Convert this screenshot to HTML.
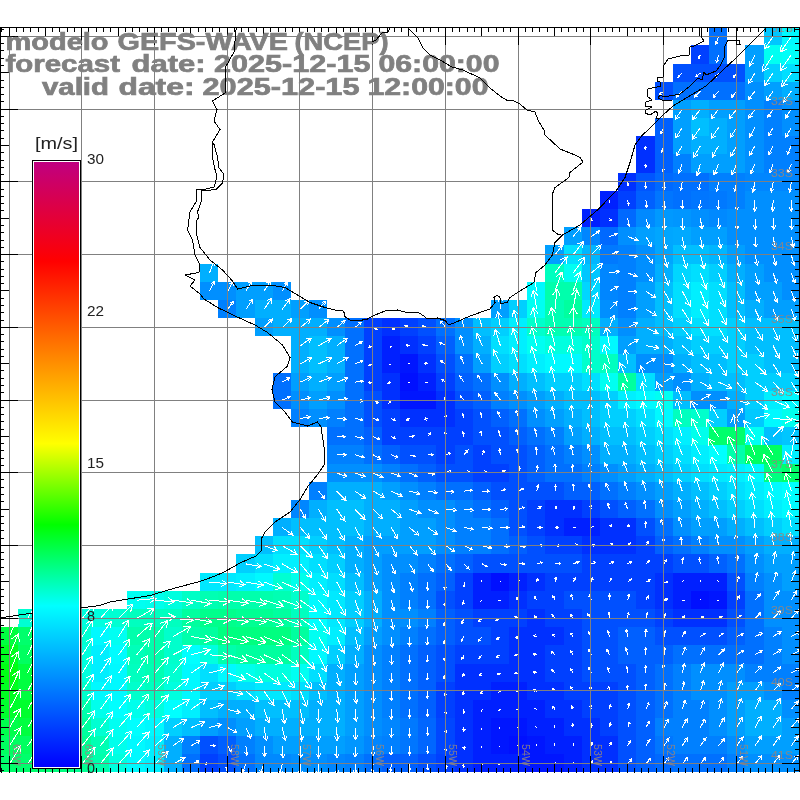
<!DOCTYPE html><html><head><meta charset="utf-8"><title>GEFS-WAVE</title>
<style>html,body{margin:0;padding:0;background:#fff;}svg{display:block;}text{font-family:"Liberation Sans",sans-serif;}</style></head><body>
<svg width="800" height="800" viewBox="0 0 800 800">
<defs><clipPath id="mapclip"><rect x="0" y="27" width="800" height="745"/></clipPath></defs>
<rect width="800" height="800" fill="#fff"/>
<g shape-rendering="crispEdges">
<rect x="709" y="27" width="18" height="18" fill="#0070ff"/>
<rect x="764" y="27" width="18" height="18" fill="#00c6ff"/>
<rect x="782" y="27" width="18" height="18" fill="#00f9ff"/>
<rect x="691" y="45" width="18" height="19" fill="#0040ff"/>
<rect x="709" y="45" width="18" height="19" fill="#0070ff"/>
<rect x="745" y="45" width="19" height="19" fill="#009fff"/>
<rect x="764" y="45" width="18" height="19" fill="#00fff2"/>
<rect x="782" y="45" width="18" height="19" fill="#00fff9"/>
<rect x="673" y="64" width="72" height="18" fill="#0050ff"/>
<rect x="745" y="64" width="19" height="18" fill="#009fff"/>
<rect x="764" y="64" width="18" height="18" fill="#00cfff"/>
<rect x="782" y="64" width="18" height="18" fill="#00dfff"/>
<rect x="655" y="82" width="18" height="18" fill="#0050ff"/>
<rect x="673" y="82" width="72" height="18" fill="#0070ff"/>
<rect x="745" y="82" width="19" height="18" fill="#008fff"/>
<rect x="764" y="82" width="18" height="18" fill="#009fff"/>
<rect x="782" y="82" width="18" height="18" fill="#00afff"/>
<rect x="673" y="100" width="18" height="18" fill="#009fff"/>
<rect x="691" y="100" width="18" height="18" fill="#00afff"/>
<rect x="709" y="100" width="36" height="18" fill="#009fff"/>
<rect x="745" y="100" width="19" height="18" fill="#008fff"/>
<rect x="764" y="100" width="18" height="18" fill="#0080ff"/>
<rect x="782" y="100" width="18" height="18" fill="#008fff"/>
<rect x="655" y="118" width="18" height="18" fill="#0060ff"/>
<rect x="673" y="118" width="18" height="18" fill="#009fff"/>
<rect x="691" y="118" width="18" height="18" fill="#00bfff"/>
<rect x="709" y="118" width="18" height="18" fill="#00afff"/>
<rect x="727" y="118" width="18" height="18" fill="#009fff"/>
<rect x="745" y="118" width="19" height="18" fill="#008fff"/>
<rect x="764" y="118" width="18" height="18" fill="#0080ff"/>
<rect x="782" y="118" width="18" height="18" fill="#008fff"/>
<rect x="636" y="136" width="19" height="18" fill="#0030ff"/>
<rect x="655" y="136" width="18" height="18" fill="#0060ff"/>
<rect x="673" y="136" width="18" height="18" fill="#009fff"/>
<rect x="691" y="136" width="36" height="18" fill="#00afff"/>
<rect x="727" y="136" width="18" height="18" fill="#009fff"/>
<rect x="745" y="136" width="19" height="18" fill="#008fff"/>
<rect x="764" y="136" width="36" height="18" fill="#0080ff"/>
<rect x="636" y="154" width="19" height="19" fill="#0030ff"/>
<rect x="655" y="154" width="18" height="19" fill="#0060ff"/>
<rect x="673" y="154" width="18" height="19" fill="#0080ff"/>
<rect x="691" y="154" width="54" height="19" fill="#009fff"/>
<rect x="745" y="154" width="19" height="19" fill="#008fff"/>
<rect x="764" y="154" width="36" height="19" fill="#0080ff"/>
<rect x="618" y="173" width="18" height="18" fill="#0030ff"/>
<rect x="636" y="173" width="19" height="18" fill="#0056ff"/>
<rect x="655" y="173" width="18" height="18" fill="#0069ff"/>
<rect x="673" y="173" width="36" height="18" fill="#0070ff"/>
<rect x="709" y="173" width="36" height="18" fill="#0080ff"/>
<rect x="745" y="173" width="55" height="18" fill="#0086ff"/>
<rect x="600" y="191" width="18" height="18" fill="#0020ff"/>
<rect x="618" y="191" width="18" height="18" fill="#0040ff"/>
<rect x="636" y="191" width="19" height="18" fill="#0060ff"/>
<rect x="655" y="191" width="18" height="18" fill="#0076ff"/>
<rect x="673" y="191" width="18" height="18" fill="#0070ff"/>
<rect x="691" y="191" width="18" height="18" fill="#0076ff"/>
<rect x="709" y="191" width="18" height="18" fill="#0079ff"/>
<rect x="727" y="191" width="18" height="18" fill="#0080ff"/>
<rect x="745" y="191" width="55" height="18" fill="#008fff"/>
<rect x="582" y="209" width="18" height="18" fill="#0020ff"/>
<rect x="600" y="209" width="18" height="18" fill="#0030ff"/>
<rect x="618" y="209" width="18" height="18" fill="#0069ff"/>
<rect x="636" y="209" width="19" height="18" fill="#0089ff"/>
<rect x="655" y="209" width="18" height="18" fill="#0099ff"/>
<rect x="673" y="209" width="18" height="18" fill="#0096ff"/>
<rect x="691" y="209" width="18" height="18" fill="#008fff"/>
<rect x="709" y="209" width="18" height="18" fill="#0089ff"/>
<rect x="727" y="209" width="73" height="18" fill="#008fff"/>
<rect x="564" y="227" width="18" height="18" fill="#009fff"/>
<rect x="582" y="227" width="18" height="18" fill="#0086ff"/>
<rect x="600" y="227" width="18" height="18" fill="#0069ff"/>
<rect x="618" y="227" width="18" height="18" fill="#008fff"/>
<rect x="636" y="227" width="19" height="18" fill="#009fff"/>
<rect x="655" y="227" width="18" height="18" fill="#00a6ff"/>
<rect x="673" y="227" width="18" height="18" fill="#00a9ff"/>
<rect x="691" y="227" width="36" height="18" fill="#009fff"/>
<rect x="727" y="227" width="73" height="18" fill="#008fff"/>
<rect x="545" y="245" width="19" height="19" fill="#009fff"/>
<rect x="564" y="245" width="18" height="19" fill="#00dfff"/>
<rect x="582" y="245" width="18" height="19" fill="#00b6ff"/>
<rect x="600" y="245" width="18" height="19" fill="#0079ff"/>
<rect x="618" y="245" width="18" height="19" fill="#0080ff"/>
<rect x="636" y="245" width="19" height="19" fill="#008fff"/>
<rect x="655" y="245" width="18" height="19" fill="#00a6ff"/>
<rect x="673" y="245" width="36" height="19" fill="#00bfff"/>
<rect x="709" y="245" width="18" height="19" fill="#00b6ff"/>
<rect x="727" y="245" width="18" height="19" fill="#009fff"/>
<rect x="745" y="245" width="55" height="19" fill="#008fff"/>
<rect x="200" y="264" width="18" height="18" fill="#00afff"/>
<rect x="545" y="264" width="19" height="18" fill="#00ffbf"/>
<rect x="564" y="264" width="18" height="18" fill="#00fff2"/>
<rect x="582" y="264" width="18" height="18" fill="#00c6ff"/>
<rect x="600" y="264" width="18" height="18" fill="#0086ff"/>
<rect x="618" y="264" width="18" height="18" fill="#0080ff"/>
<rect x="636" y="264" width="19" height="18" fill="#008fff"/>
<rect x="655" y="264" width="18" height="18" fill="#00afff"/>
<rect x="673" y="264" width="18" height="18" fill="#00d6ff"/>
<rect x="691" y="264" width="18" height="18" fill="#00dfff"/>
<rect x="709" y="264" width="18" height="18" fill="#00cfff"/>
<rect x="727" y="264" width="18" height="18" fill="#00afff"/>
<rect x="745" y="264" width="19" height="18" fill="#009fff"/>
<rect x="764" y="264" width="36" height="18" fill="#008fff"/>
<rect x="200" y="282" width="36" height="18" fill="#008fff"/>
<rect x="236" y="282" width="37" height="18" fill="#009fff"/>
<rect x="273" y="282" width="18" height="18" fill="#008fff"/>
<rect x="527" y="282" width="18" height="18" fill="#00f9ff"/>
<rect x="545" y="282" width="37" height="18" fill="#00ffac"/>
<rect x="582" y="282" width="18" height="18" fill="#00d6ff"/>
<rect x="600" y="282" width="18" height="18" fill="#0086ff"/>
<rect x="618" y="282" width="18" height="18" fill="#0080ff"/>
<rect x="636" y="282" width="19" height="18" fill="#009fff"/>
<rect x="655" y="282" width="18" height="18" fill="#00bfff"/>
<rect x="673" y="282" width="18" height="18" fill="#00dfff"/>
<rect x="691" y="282" width="18" height="18" fill="#00efff"/>
<rect x="709" y="282" width="18" height="18" fill="#00dfff"/>
<rect x="727" y="282" width="18" height="18" fill="#00bfff"/>
<rect x="745" y="282" width="37" height="18" fill="#009fff"/>
<rect x="782" y="282" width="18" height="18" fill="#008fff"/>
<rect x="218" y="300" width="18" height="18" fill="#0080ff"/>
<rect x="236" y="300" width="19" height="18" fill="#009fff"/>
<rect x="255" y="300" width="36" height="18" fill="#00afff"/>
<rect x="291" y="300" width="18" height="18" fill="#009fff"/>
<rect x="309" y="300" width="18" height="18" fill="#008fff"/>
<rect x="491" y="300" width="18" height="18" fill="#009fff"/>
<rect x="509" y="300" width="18" height="18" fill="#00cfff"/>
<rect x="527" y="300" width="18" height="18" fill="#00fff2"/>
<rect x="545" y="300" width="19" height="18" fill="#00ffb3"/>
<rect x="564" y="300" width="18" height="18" fill="#00ff9f"/>
<rect x="582" y="300" width="18" height="18" fill="#00e9ff"/>
<rect x="600" y="300" width="18" height="18" fill="#008fff"/>
<rect x="618" y="300" width="18" height="18" fill="#0080ff"/>
<rect x="636" y="300" width="19" height="18" fill="#009fff"/>
<rect x="655" y="300" width="18" height="18" fill="#00bfff"/>
<rect x="673" y="300" width="18" height="18" fill="#00dfff"/>
<rect x="691" y="300" width="18" height="18" fill="#00efff"/>
<rect x="709" y="300" width="18" height="18" fill="#00dfff"/>
<rect x="727" y="300" width="18" height="18" fill="#00bfff"/>
<rect x="745" y="300" width="19" height="18" fill="#00afff"/>
<rect x="764" y="300" width="36" height="18" fill="#009fff"/>
<rect x="255" y="318" width="18" height="18" fill="#009fff"/>
<rect x="273" y="318" width="54" height="18" fill="#00afff"/>
<rect x="327" y="318" width="18" height="18" fill="#008fff"/>
<rect x="345" y="318" width="19" height="18" fill="#0070ff"/>
<rect x="364" y="318" width="18" height="18" fill="#0040ff"/>
<rect x="382" y="318" width="18" height="18" fill="#0030ff"/>
<rect x="400" y="318" width="18" height="18" fill="#0040ff"/>
<rect x="418" y="318" width="18" height="18" fill="#0050ff"/>
<rect x="436" y="318" width="19" height="18" fill="#0070ff"/>
<rect x="455" y="318" width="18" height="18" fill="#008fff"/>
<rect x="473" y="318" width="18" height="18" fill="#00bfff"/>
<rect x="491" y="318" width="18" height="18" fill="#00cfff"/>
<rect x="509" y="318" width="18" height="18" fill="#00efff"/>
<rect x="527" y="318" width="18" height="18" fill="#00ffcc"/>
<rect x="545" y="318" width="37" height="18" fill="#00ffb3"/>
<rect x="582" y="318" width="18" height="18" fill="#00ffbf"/>
<rect x="600" y="318" width="18" height="18" fill="#00afff"/>
<rect x="618" y="318" width="18" height="18" fill="#008fff"/>
<rect x="636" y="318" width="19" height="18" fill="#00afff"/>
<rect x="655" y="318" width="18" height="18" fill="#00bfff"/>
<rect x="673" y="318" width="18" height="18" fill="#00cfff"/>
<rect x="691" y="318" width="36" height="18" fill="#00dfff"/>
<rect x="727" y="318" width="18" height="18" fill="#00cfff"/>
<rect x="745" y="318" width="55" height="18" fill="#00bfff"/>
<rect x="291" y="336" width="18" height="18" fill="#00afff"/>
<rect x="309" y="336" width="18" height="18" fill="#00bfff"/>
<rect x="327" y="336" width="18" height="18" fill="#00afff"/>
<rect x="345" y="336" width="19" height="18" fill="#0070ff"/>
<rect x="364" y="336" width="18" height="18" fill="#0040ff"/>
<rect x="382" y="336" width="18" height="18" fill="#0020ff"/>
<rect x="400" y="336" width="18" height="18" fill="#0030ff"/>
<rect x="418" y="336" width="18" height="18" fill="#0040ff"/>
<rect x="436" y="336" width="19" height="18" fill="#0060ff"/>
<rect x="455" y="336" width="18" height="18" fill="#008fff"/>
<rect x="473" y="336" width="18" height="18" fill="#00afff"/>
<rect x="491" y="336" width="18" height="18" fill="#00dfff"/>
<rect x="509" y="336" width="18" height="18" fill="#00efff"/>
<rect x="527" y="336" width="18" height="18" fill="#00fff2"/>
<rect x="545" y="336" width="37" height="18" fill="#00ffdf"/>
<rect x="582" y="336" width="18" height="18" fill="#00ffcc"/>
<rect x="600" y="336" width="18" height="18" fill="#00f9ff"/>
<rect x="618" y="336" width="18" height="18" fill="#009fff"/>
<rect x="636" y="336" width="37" height="18" fill="#00afff"/>
<rect x="673" y="336" width="18" height="18" fill="#00bfff"/>
<rect x="691" y="336" width="54" height="18" fill="#00cfff"/>
<rect x="745" y="336" width="55" height="18" fill="#00bfff"/>
<rect x="291" y="354" width="18" height="19" fill="#00afff"/>
<rect x="309" y="354" width="18" height="19" fill="#00bfff"/>
<rect x="327" y="354" width="18" height="19" fill="#00afff"/>
<rect x="345" y="354" width="19" height="19" fill="#0070ff"/>
<rect x="364" y="354" width="18" height="19" fill="#0040ff"/>
<rect x="382" y="354" width="18" height="19" fill="#0020ff"/>
<rect x="400" y="354" width="18" height="19" fill="#0016ff"/>
<rect x="418" y="354" width="18" height="19" fill="#0030ff"/>
<rect x="436" y="354" width="19" height="19" fill="#0050ff"/>
<rect x="455" y="354" width="18" height="19" fill="#0070ff"/>
<rect x="473" y="354" width="18" height="19" fill="#009fff"/>
<rect x="491" y="354" width="18" height="19" fill="#00cfff"/>
<rect x="509" y="354" width="18" height="19" fill="#00dfff"/>
<rect x="527" y="354" width="18" height="19" fill="#00efff"/>
<rect x="545" y="354" width="37" height="19" fill="#00f9ff"/>
<rect x="582" y="354" width="18" height="19" fill="#00ffcc"/>
<rect x="600" y="354" width="18" height="19" fill="#00ffbf"/>
<rect x="618" y="354" width="18" height="19" fill="#00bfff"/>
<rect x="636" y="354" width="37" height="19" fill="#008fff"/>
<rect x="673" y="354" width="18" height="19" fill="#00afff"/>
<rect x="691" y="354" width="36" height="19" fill="#00bfff"/>
<rect x="727" y="354" width="37" height="19" fill="#00cfff"/>
<rect x="764" y="354" width="36" height="19" fill="#00bfff"/>
<rect x="273" y="373" width="18" height="18" fill="#0070ff"/>
<rect x="291" y="373" width="18" height="18" fill="#009fff"/>
<rect x="309" y="373" width="18" height="18" fill="#00afff"/>
<rect x="327" y="373" width="18" height="18" fill="#009fff"/>
<rect x="345" y="373" width="19" height="18" fill="#0070ff"/>
<rect x="364" y="373" width="18" height="18" fill="#0040ff"/>
<rect x="382" y="373" width="18" height="18" fill="#0030ff"/>
<rect x="400" y="373" width="18" height="18" fill="#0010ff"/>
<rect x="418" y="373" width="18" height="18" fill="#0020ff"/>
<rect x="436" y="373" width="19" height="18" fill="#0040ff"/>
<rect x="455" y="373" width="18" height="18" fill="#0060ff"/>
<rect x="473" y="373" width="18" height="18" fill="#0070ff"/>
<rect x="491" y="373" width="18" height="18" fill="#008fff"/>
<rect x="509" y="373" width="18" height="18" fill="#00afff"/>
<rect x="527" y="373" width="18" height="18" fill="#00bfff"/>
<rect x="545" y="373" width="37" height="18" fill="#00cfff"/>
<rect x="582" y="373" width="18" height="18" fill="#00dfff"/>
<rect x="600" y="373" width="18" height="18" fill="#00fff2"/>
<rect x="618" y="373" width="18" height="18" fill="#00ff9f"/>
<rect x="636" y="373" width="19" height="18" fill="#00dfff"/>
<rect x="655" y="373" width="18" height="18" fill="#009fff"/>
<rect x="673" y="373" width="18" height="18" fill="#008fff"/>
<rect x="691" y="373" width="18" height="18" fill="#00afff"/>
<rect x="709" y="373" width="36" height="18" fill="#00bfff"/>
<rect x="745" y="373" width="55" height="18" fill="#00cfff"/>
<rect x="273" y="391" width="18" height="18" fill="#0070ff"/>
<rect x="291" y="391" width="18" height="18" fill="#008fff"/>
<rect x="309" y="391" width="18" height="18" fill="#009fff"/>
<rect x="327" y="391" width="18" height="18" fill="#008fff"/>
<rect x="345" y="391" width="19" height="18" fill="#0070ff"/>
<rect x="364" y="391" width="18" height="18" fill="#0050ff"/>
<rect x="382" y="391" width="18" height="18" fill="#0030ff"/>
<rect x="400" y="391" width="36" height="18" fill="#0016ff"/>
<rect x="436" y="391" width="19" height="18" fill="#0030ff"/>
<rect x="455" y="391" width="18" height="18" fill="#0050ff"/>
<rect x="473" y="391" width="18" height="18" fill="#0060ff"/>
<rect x="491" y="391" width="18" height="18" fill="#0080ff"/>
<rect x="509" y="391" width="18" height="18" fill="#008fff"/>
<rect x="527" y="391" width="18" height="18" fill="#009fff"/>
<rect x="545" y="391" width="19" height="18" fill="#00afff"/>
<rect x="564" y="391" width="36" height="18" fill="#00bfff"/>
<rect x="600" y="391" width="18" height="18" fill="#00cfff"/>
<rect x="618" y="391" width="18" height="18" fill="#00efff"/>
<rect x="636" y="391" width="19" height="18" fill="#00f9ff"/>
<rect x="655" y="391" width="18" height="18" fill="#00fff2"/>
<rect x="673" y="391" width="18" height="18" fill="#00bfff"/>
<rect x="691" y="391" width="36" height="18" fill="#008fff"/>
<rect x="727" y="391" width="18" height="18" fill="#00afff"/>
<rect x="745" y="391" width="19" height="18" fill="#00cfff"/>
<rect x="764" y="391" width="18" height="18" fill="#00efff"/>
<rect x="782" y="391" width="18" height="18" fill="#00f9ff"/>
<rect x="291" y="409" width="18" height="18" fill="#0080ff"/>
<rect x="309" y="409" width="18" height="18" fill="#008fff"/>
<rect x="327" y="409" width="18" height="18" fill="#0080ff"/>
<rect x="345" y="409" width="19" height="18" fill="#0070ff"/>
<rect x="364" y="409" width="18" height="18" fill="#0050ff"/>
<rect x="382" y="409" width="18" height="18" fill="#0040ff"/>
<rect x="400" y="409" width="55" height="18" fill="#0030ff"/>
<rect x="455" y="409" width="18" height="18" fill="#0040ff"/>
<rect x="473" y="409" width="18" height="18" fill="#0050ff"/>
<rect x="491" y="409" width="18" height="18" fill="#0060ff"/>
<rect x="509" y="409" width="18" height="18" fill="#0070ff"/>
<rect x="527" y="409" width="18" height="18" fill="#008fff"/>
<rect x="545" y="409" width="19" height="18" fill="#009fff"/>
<rect x="564" y="409" width="18" height="18" fill="#00afff"/>
<rect x="582" y="409" width="18" height="18" fill="#00bfff"/>
<rect x="600" y="409" width="36" height="18" fill="#00cfff"/>
<rect x="636" y="409" width="19" height="18" fill="#00dfff"/>
<rect x="655" y="409" width="18" height="18" fill="#00f9ff"/>
<rect x="673" y="409" width="18" height="18" fill="#00ffbf"/>
<rect x="691" y="409" width="18" height="18" fill="#00ffcc"/>
<rect x="709" y="409" width="18" height="18" fill="#00cfff"/>
<rect x="727" y="409" width="18" height="18" fill="#009fff"/>
<rect x="745" y="409" width="19" height="18" fill="#00c9ff"/>
<rect x="764" y="409" width="18" height="18" fill="#00f9ff"/>
<rect x="782" y="409" width="18" height="18" fill="#00ffec"/>
<rect x="327" y="427" width="37" height="18" fill="#0070ff"/>
<rect x="364" y="427" width="18" height="18" fill="#0060ff"/>
<rect x="382" y="427" width="91" height="18" fill="#0040ff"/>
<rect x="473" y="427" width="36" height="18" fill="#0050ff"/>
<rect x="509" y="427" width="18" height="18" fill="#0060ff"/>
<rect x="527" y="427" width="18" height="18" fill="#0070ff"/>
<rect x="545" y="427" width="19" height="18" fill="#0080ff"/>
<rect x="564" y="427" width="18" height="18" fill="#009fff"/>
<rect x="582" y="427" width="18" height="18" fill="#00afff"/>
<rect x="600" y="427" width="36" height="18" fill="#00bfff"/>
<rect x="636" y="427" width="19" height="18" fill="#00cfff"/>
<rect x="655" y="427" width="18" height="18" fill="#00dfff"/>
<rect x="673" y="427" width="18" height="18" fill="#00efff"/>
<rect x="691" y="427" width="18" height="18" fill="#00ffec"/>
<rect x="709" y="427" width="36" height="18" fill="#00ff6c"/>
<rect x="745" y="427" width="19" height="18" fill="#00fff2"/>
<rect x="764" y="427" width="18" height="18" fill="#00bfff"/>
<rect x="782" y="427" width="18" height="18" fill="#00c6ff"/>
<rect x="327" y="445" width="37" height="19" fill="#0080ff"/>
<rect x="364" y="445" width="18" height="19" fill="#0070ff"/>
<rect x="382" y="445" width="18" height="19" fill="#0060ff"/>
<rect x="400" y="445" width="36" height="19" fill="#0050ff"/>
<rect x="436" y="445" width="19" height="19" fill="#0040ff"/>
<rect x="455" y="445" width="18" height="19" fill="#0050ff"/>
<rect x="473" y="445" width="18" height="19" fill="#0040ff"/>
<rect x="491" y="445" width="36" height="19" fill="#0050ff"/>
<rect x="527" y="445" width="18" height="19" fill="#0060ff"/>
<rect x="545" y="445" width="19" height="19" fill="#0070ff"/>
<rect x="564" y="445" width="18" height="19" fill="#0080ff"/>
<rect x="582" y="445" width="18" height="19" fill="#008fff"/>
<rect x="600" y="445" width="36" height="19" fill="#00afff"/>
<rect x="636" y="445" width="19" height="19" fill="#00bfff"/>
<rect x="655" y="445" width="18" height="19" fill="#00cfff"/>
<rect x="673" y="445" width="18" height="19" fill="#00dfff"/>
<rect x="691" y="445" width="18" height="19" fill="#00efff"/>
<rect x="709" y="445" width="18" height="19" fill="#00ffff"/>
<rect x="727" y="445" width="18" height="19" fill="#00ffac"/>
<rect x="745" y="445" width="37" height="19" fill="#00ff60"/>
<rect x="782" y="445" width="18" height="19" fill="#00efff"/>
<rect x="327" y="464" width="55" height="18" fill="#008fff"/>
<rect x="382" y="464" width="18" height="18" fill="#0080ff"/>
<rect x="400" y="464" width="18" height="18" fill="#0070ff"/>
<rect x="418" y="464" width="18" height="18" fill="#0060ff"/>
<rect x="436" y="464" width="37" height="18" fill="#0050ff"/>
<rect x="473" y="464" width="36" height="18" fill="#0040ff"/>
<rect x="509" y="464" width="18" height="18" fill="#0050ff"/>
<rect x="527" y="464" width="18" height="18" fill="#0060ff"/>
<rect x="545" y="464" width="37" height="18" fill="#0070ff"/>
<rect x="582" y="464" width="18" height="18" fill="#0080ff"/>
<rect x="600" y="464" width="18" height="18" fill="#008fff"/>
<rect x="618" y="464" width="18" height="18" fill="#009fff"/>
<rect x="636" y="464" width="19" height="18" fill="#00afff"/>
<rect x="655" y="464" width="18" height="18" fill="#00bfff"/>
<rect x="673" y="464" width="18" height="18" fill="#00cfff"/>
<rect x="691" y="464" width="18" height="18" fill="#00dfff"/>
<rect x="709" y="464" width="18" height="18" fill="#00e9ff"/>
<rect x="727" y="464" width="18" height="18" fill="#00efff"/>
<rect x="745" y="464" width="19" height="18" fill="#00f9ff"/>
<rect x="764" y="464" width="18" height="18" fill="#00ff80"/>
<rect x="782" y="464" width="18" height="18" fill="#00ff6c"/>
<rect x="309" y="482" width="18" height="18" fill="#0080ff"/>
<rect x="327" y="482" width="55" height="18" fill="#00afff"/>
<rect x="382" y="482" width="18" height="18" fill="#009fff"/>
<rect x="400" y="482" width="18" height="18" fill="#008fff"/>
<rect x="418" y="482" width="18" height="18" fill="#0080ff"/>
<rect x="436" y="482" width="37" height="18" fill="#0070ff"/>
<rect x="473" y="482" width="18" height="18" fill="#0060ff"/>
<rect x="491" y="482" width="73" height="18" fill="#0050ff"/>
<rect x="564" y="482" width="36" height="18" fill="#0060ff"/>
<rect x="600" y="482" width="18" height="18" fill="#0070ff"/>
<rect x="618" y="482" width="18" height="18" fill="#0080ff"/>
<rect x="636" y="482" width="19" height="18" fill="#008fff"/>
<rect x="655" y="482" width="18" height="18" fill="#009fff"/>
<rect x="673" y="482" width="18" height="18" fill="#00afff"/>
<rect x="691" y="482" width="18" height="18" fill="#00bfff"/>
<rect x="709" y="482" width="18" height="18" fill="#00cfff"/>
<rect x="727" y="482" width="18" height="18" fill="#00dfff"/>
<rect x="745" y="482" width="19" height="18" fill="#00ecff"/>
<rect x="764" y="482" width="18" height="18" fill="#00f9ff"/>
<rect x="782" y="482" width="18" height="18" fill="#00ffff"/>
<rect x="291" y="500" width="18" height="18" fill="#0086ff"/>
<rect x="309" y="500" width="18" height="18" fill="#00afff"/>
<rect x="327" y="500" width="37" height="18" fill="#00bfff"/>
<rect x="364" y="500" width="36" height="18" fill="#00afff"/>
<rect x="400" y="500" width="18" height="18" fill="#009fff"/>
<rect x="418" y="500" width="37" height="18" fill="#008fff"/>
<rect x="455" y="500" width="18" height="18" fill="#0080ff"/>
<rect x="473" y="500" width="18" height="18" fill="#0070ff"/>
<rect x="491" y="500" width="18" height="18" fill="#0060ff"/>
<rect x="509" y="500" width="18" height="18" fill="#0050ff"/>
<rect x="527" y="500" width="18" height="18" fill="#0040ff"/>
<rect x="545" y="500" width="37" height="18" fill="#0030ff"/>
<rect x="582" y="500" width="18" height="18" fill="#0040ff"/>
<rect x="600" y="500" width="18" height="18" fill="#0050ff"/>
<rect x="618" y="500" width="18" height="18" fill="#0060ff"/>
<rect x="636" y="500" width="19" height="18" fill="#0070ff"/>
<rect x="655" y="500" width="18" height="18" fill="#008fff"/>
<rect x="673" y="500" width="18" height="18" fill="#009fff"/>
<rect x="691" y="500" width="18" height="18" fill="#00afff"/>
<rect x="709" y="500" width="18" height="18" fill="#00bfff"/>
<rect x="727" y="500" width="18" height="18" fill="#00cfff"/>
<rect x="745" y="500" width="19" height="18" fill="#00dfff"/>
<rect x="764" y="500" width="18" height="18" fill="#00efff"/>
<rect x="782" y="500" width="18" height="18" fill="#00f9ff"/>
<rect x="273" y="518" width="18" height="18" fill="#00afff"/>
<rect x="291" y="518" width="73" height="18" fill="#00bfff"/>
<rect x="364" y="518" width="36" height="18" fill="#00afff"/>
<rect x="400" y="518" width="36" height="18" fill="#009fff"/>
<rect x="436" y="518" width="19" height="18" fill="#008fff"/>
<rect x="455" y="518" width="36" height="18" fill="#0080ff"/>
<rect x="491" y="518" width="18" height="18" fill="#0070ff"/>
<rect x="509" y="518" width="18" height="18" fill="#0050ff"/>
<rect x="527" y="518" width="18" height="18" fill="#0040ff"/>
<rect x="545" y="518" width="19" height="18" fill="#0030ff"/>
<rect x="564" y="518" width="36" height="18" fill="#0020ff"/>
<rect x="600" y="518" width="36" height="18" fill="#0030ff"/>
<rect x="636" y="518" width="19" height="18" fill="#0050ff"/>
<rect x="655" y="518" width="18" height="18" fill="#0070ff"/>
<rect x="673" y="518" width="18" height="18" fill="#008fff"/>
<rect x="691" y="518" width="36" height="18" fill="#009fff"/>
<rect x="727" y="518" width="18" height="18" fill="#00afff"/>
<rect x="745" y="518" width="19" height="18" fill="#00bfff"/>
<rect x="764" y="518" width="18" height="18" fill="#00cfff"/>
<rect x="782" y="518" width="18" height="18" fill="#00dfff"/>
<rect x="255" y="536" width="18" height="18" fill="#00bfff"/>
<rect x="273" y="536" width="36" height="18" fill="#00dfff"/>
<rect x="309" y="536" width="18" height="18" fill="#00cfff"/>
<rect x="327" y="536" width="18" height="18" fill="#00bfff"/>
<rect x="345" y="536" width="19" height="18" fill="#00afff"/>
<rect x="364" y="536" width="72" height="18" fill="#009fff"/>
<rect x="436" y="536" width="19" height="18" fill="#008fff"/>
<rect x="455" y="536" width="36" height="18" fill="#0080ff"/>
<rect x="491" y="536" width="18" height="18" fill="#0070ff"/>
<rect x="509" y="536" width="18" height="18" fill="#0060ff"/>
<rect x="527" y="536" width="18" height="18" fill="#0050ff"/>
<rect x="545" y="536" width="37" height="18" fill="#0040ff"/>
<rect x="582" y="536" width="54" height="18" fill="#0030ff"/>
<rect x="636" y="536" width="19" height="18" fill="#0040ff"/>
<rect x="655" y="536" width="18" height="18" fill="#0060ff"/>
<rect x="673" y="536" width="18" height="18" fill="#0070ff"/>
<rect x="691" y="536" width="18" height="18" fill="#0080ff"/>
<rect x="709" y="536" width="36" height="18" fill="#008fff"/>
<rect x="745" y="536" width="19" height="18" fill="#009fff"/>
<rect x="764" y="536" width="36" height="18" fill="#00afff"/>
<rect x="236" y="554" width="19" height="19" fill="#00cfff"/>
<rect x="255" y="554" width="18" height="19" fill="#00dfff"/>
<rect x="273" y="554" width="36" height="19" fill="#00efff"/>
<rect x="309" y="554" width="18" height="19" fill="#00dfff"/>
<rect x="327" y="554" width="18" height="19" fill="#00cfff"/>
<rect x="345" y="554" width="19" height="19" fill="#00afff"/>
<rect x="364" y="554" width="18" height="19" fill="#009fff"/>
<rect x="382" y="554" width="36" height="19" fill="#008fff"/>
<rect x="418" y="554" width="18" height="19" fill="#0080ff"/>
<rect x="436" y="554" width="19" height="19" fill="#0070ff"/>
<rect x="455" y="554" width="18" height="19" fill="#0060ff"/>
<rect x="473" y="554" width="109" height="19" fill="#0050ff"/>
<rect x="582" y="554" width="91" height="19" fill="#0040ff"/>
<rect x="673" y="554" width="36" height="19" fill="#0050ff"/>
<rect x="709" y="554" width="18" height="19" fill="#0060ff"/>
<rect x="727" y="554" width="18" height="19" fill="#0070ff"/>
<rect x="745" y="554" width="19" height="19" fill="#008fff"/>
<rect x="764" y="554" width="36" height="19" fill="#009fff"/>
<rect x="200" y="573" width="36" height="18" fill="#00e9ff"/>
<rect x="236" y="573" width="19" height="18" fill="#00efff"/>
<rect x="255" y="573" width="18" height="18" fill="#00f9ff"/>
<rect x="273" y="573" width="18" height="18" fill="#00ffd2"/>
<rect x="291" y="573" width="18" height="18" fill="#00ffec"/>
<rect x="309" y="573" width="18" height="18" fill="#00efff"/>
<rect x="327" y="573" width="18" height="18" fill="#00dfff"/>
<rect x="345" y="573" width="19" height="18" fill="#00bfff"/>
<rect x="364" y="573" width="18" height="18" fill="#009fff"/>
<rect x="382" y="573" width="18" height="18" fill="#008fff"/>
<rect x="400" y="573" width="18" height="18" fill="#0080ff"/>
<rect x="418" y="573" width="18" height="18" fill="#0070ff"/>
<rect x="436" y="573" width="19" height="18" fill="#0060ff"/>
<rect x="455" y="573" width="18" height="18" fill="#0040ff"/>
<rect x="473" y="573" width="18" height="18" fill="#0020ff"/>
<rect x="491" y="573" width="18" height="18" fill="#0010ff"/>
<rect x="509" y="573" width="18" height="18" fill="#0020ff"/>
<rect x="527" y="573" width="18" height="18" fill="#0030ff"/>
<rect x="545" y="573" width="110" height="18" fill="#0040ff"/>
<rect x="655" y="573" width="18" height="18" fill="#0030ff"/>
<rect x="673" y="573" width="54" height="18" fill="#0020ff"/>
<rect x="727" y="573" width="18" height="18" fill="#0050ff"/>
<rect x="745" y="573" width="19" height="18" fill="#0080ff"/>
<rect x="764" y="573" width="18" height="18" fill="#008fff"/>
<rect x="782" y="573" width="18" height="18" fill="#009fff"/>
<rect x="127" y="591" width="18" height="18" fill="#00fff2"/>
<rect x="145" y="591" width="19" height="18" fill="#00ffec"/>
<rect x="164" y="591" width="18" height="18" fill="#00ffdf"/>
<rect x="182" y="591" width="18" height="18" fill="#00ffc6"/>
<rect x="200" y="591" width="18" height="18" fill="#00ffb3"/>
<rect x="218" y="591" width="55" height="18" fill="#00ffac"/>
<rect x="273" y="591" width="18" height="18" fill="#00ffb3"/>
<rect x="291" y="591" width="18" height="18" fill="#00ffcc"/>
<rect x="309" y="591" width="18" height="18" fill="#00f9ff"/>
<rect x="327" y="591" width="18" height="18" fill="#00e9ff"/>
<rect x="345" y="591" width="19" height="18" fill="#00cfff"/>
<rect x="364" y="591" width="18" height="18" fill="#00afff"/>
<rect x="382" y="591" width="18" height="18" fill="#008fff"/>
<rect x="400" y="591" width="18" height="18" fill="#0080ff"/>
<rect x="418" y="591" width="18" height="18" fill="#0070ff"/>
<rect x="436" y="591" width="19" height="18" fill="#0050ff"/>
<rect x="455" y="591" width="18" height="18" fill="#0040ff"/>
<rect x="473" y="591" width="36" height="18" fill="#0020ff"/>
<rect x="509" y="591" width="18" height="18" fill="#0030ff"/>
<rect x="527" y="591" width="37" height="18" fill="#0040ff"/>
<rect x="564" y="591" width="72" height="18" fill="#0050ff"/>
<rect x="636" y="591" width="19" height="18" fill="#0040ff"/>
<rect x="655" y="591" width="18" height="18" fill="#0030ff"/>
<rect x="673" y="591" width="18" height="18" fill="#0020ff"/>
<rect x="691" y="591" width="18" height="18" fill="#0010ff"/>
<rect x="709" y="591" width="18" height="18" fill="#0016ff"/>
<rect x="727" y="591" width="18" height="18" fill="#0040ff"/>
<rect x="745" y="591" width="19" height="18" fill="#0070ff"/>
<rect x="764" y="591" width="36" height="18" fill="#008fff"/>
<rect x="18" y="609" width="18" height="18" fill="#00ffd2"/>
<rect x="36" y="609" width="19" height="18" fill="#00ffd9"/>
<rect x="55" y="609" width="54" height="18" fill="#00ffdf"/>
<rect x="109" y="609" width="18" height="18" fill="#00ffd2"/>
<rect x="127" y="609" width="55" height="18" fill="#00ffbf"/>
<rect x="182" y="609" width="18" height="18" fill="#00ff9f"/>
<rect x="200" y="609" width="36" height="18" fill="#00ff8c"/>
<rect x="236" y="609" width="37" height="18" fill="#00ff93"/>
<rect x="273" y="609" width="18" height="18" fill="#00ff9f"/>
<rect x="291" y="609" width="18" height="18" fill="#00ffbf"/>
<rect x="309" y="609" width="18" height="18" fill="#00ffff"/>
<rect x="327" y="609" width="18" height="18" fill="#00e9ff"/>
<rect x="345" y="609" width="19" height="18" fill="#00cfff"/>
<rect x="364" y="609" width="18" height="18" fill="#00afff"/>
<rect x="382" y="609" width="36" height="18" fill="#008fff"/>
<rect x="418" y="609" width="18" height="18" fill="#0080ff"/>
<rect x="436" y="609" width="19" height="18" fill="#0060ff"/>
<rect x="455" y="609" width="18" height="18" fill="#0050ff"/>
<rect x="473" y="609" width="54" height="18" fill="#0040ff"/>
<rect x="527" y="609" width="18" height="18" fill="#0030ff"/>
<rect x="545" y="609" width="37" height="18" fill="#0040ff"/>
<rect x="582" y="609" width="73" height="18" fill="#0050ff"/>
<rect x="655" y="609" width="18" height="18" fill="#0040ff"/>
<rect x="673" y="609" width="54" height="18" fill="#0030ff"/>
<rect x="727" y="609" width="18" height="18" fill="#0050ff"/>
<rect x="745" y="609" width="19" height="18" fill="#0070ff"/>
<rect x="764" y="609" width="36" height="18" fill="#008fff"/>
<rect x="0" y="627" width="18" height="18" fill="#00ff40"/>
<rect x="18" y="627" width="18" height="18" fill="#00ff6c"/>
<rect x="36" y="627" width="19" height="18" fill="#00ff8c"/>
<rect x="55" y="627" width="18" height="18" fill="#00ffac"/>
<rect x="73" y="627" width="18" height="18" fill="#00ffd2"/>
<rect x="91" y="627" width="18" height="18" fill="#00f9ff"/>
<rect x="109" y="627" width="18" height="18" fill="#00fff2"/>
<rect x="127" y="627" width="37" height="18" fill="#00ffac"/>
<rect x="164" y="627" width="18" height="18" fill="#00ffcc"/>
<rect x="182" y="627" width="18" height="18" fill="#00ffac"/>
<rect x="200" y="627" width="18" height="18" fill="#00ff9f"/>
<rect x="218" y="627" width="73" height="18" fill="#00ff80"/>
<rect x="291" y="627" width="18" height="18" fill="#00ff9f"/>
<rect x="309" y="627" width="18" height="18" fill="#00fff2"/>
<rect x="327" y="627" width="18" height="18" fill="#00efff"/>
<rect x="345" y="627" width="19" height="18" fill="#00bfff"/>
<rect x="364" y="627" width="18" height="18" fill="#009fff"/>
<rect x="382" y="627" width="18" height="18" fill="#008fff"/>
<rect x="400" y="627" width="18" height="18" fill="#0080ff"/>
<rect x="418" y="627" width="18" height="18" fill="#0070ff"/>
<rect x="436" y="627" width="19" height="18" fill="#0060ff"/>
<rect x="455" y="627" width="36" height="18" fill="#0050ff"/>
<rect x="491" y="627" width="18" height="18" fill="#0040ff"/>
<rect x="509" y="627" width="55" height="18" fill="#0030ff"/>
<rect x="564" y="627" width="18" height="18" fill="#0040ff"/>
<rect x="582" y="627" width="36" height="18" fill="#0050ff"/>
<rect x="618" y="627" width="37" height="18" fill="#0060ff"/>
<rect x="655" y="627" width="72" height="18" fill="#0050ff"/>
<rect x="727" y="627" width="18" height="18" fill="#0060ff"/>
<rect x="745" y="627" width="19" height="18" fill="#0070ff"/>
<rect x="764" y="627" width="18" height="18" fill="#0080ff"/>
<rect x="782" y="627" width="18" height="18" fill="#008fff"/>
<rect x="0" y="645" width="18" height="19" fill="#00ff20"/>
<rect x="18" y="645" width="18" height="19" fill="#00ff60"/>
<rect x="36" y="645" width="19" height="19" fill="#00ff8c"/>
<rect x="55" y="645" width="18" height="19" fill="#00ffb3"/>
<rect x="73" y="645" width="18" height="19" fill="#00ffdf"/>
<rect x="91" y="645" width="18" height="19" fill="#00efff"/>
<rect x="109" y="645" width="18" height="19" fill="#00fcff"/>
<rect x="127" y="645" width="18" height="19" fill="#00ffb9"/>
<rect x="145" y="645" width="19" height="19" fill="#00ffac"/>
<rect x="164" y="645" width="18" height="19" fill="#00ffcc"/>
<rect x="182" y="645" width="18" height="19" fill="#00ffff"/>
<rect x="200" y="645" width="18" height="19" fill="#00ffdf"/>
<rect x="218" y="645" width="18" height="19" fill="#00ffac"/>
<rect x="236" y="645" width="55" height="19" fill="#00ff9f"/>
<rect x="291" y="645" width="18" height="19" fill="#00ffbf"/>
<rect x="309" y="645" width="18" height="19" fill="#00f9ff"/>
<rect x="327" y="645" width="18" height="19" fill="#00cfff"/>
<rect x="345" y="645" width="19" height="19" fill="#00afff"/>
<rect x="364" y="645" width="18" height="19" fill="#008fff"/>
<rect x="382" y="645" width="18" height="19" fill="#0080ff"/>
<rect x="400" y="645" width="18" height="19" fill="#0070ff"/>
<rect x="418" y="645" width="18" height="19" fill="#0060ff"/>
<rect x="436" y="645" width="19" height="19" fill="#0050ff"/>
<rect x="455" y="645" width="54" height="19" fill="#0040ff"/>
<rect x="509" y="645" width="36" height="19" fill="#0030ff"/>
<rect x="545" y="645" width="37" height="19" fill="#0040ff"/>
<rect x="582" y="645" width="36" height="19" fill="#0050ff"/>
<rect x="618" y="645" width="55" height="19" fill="#0060ff"/>
<rect x="673" y="645" width="91" height="19" fill="#0070ff"/>
<rect x="764" y="645" width="18" height="19" fill="#0080ff"/>
<rect x="782" y="645" width="18" height="19" fill="#008fff"/>
<rect x="0" y="664" width="18" height="18" fill="#00ff13"/>
<rect x="18" y="664" width="18" height="18" fill="#00ff40"/>
<rect x="36" y="664" width="19" height="18" fill="#00ff73"/>
<rect x="55" y="664" width="18" height="18" fill="#00ffac"/>
<rect x="73" y="664" width="18" height="18" fill="#00ffdf"/>
<rect x="91" y="664" width="18" height="18" fill="#00efff"/>
<rect x="109" y="664" width="18" height="18" fill="#00f9ff"/>
<rect x="127" y="664" width="18" height="18" fill="#00ffbf"/>
<rect x="145" y="664" width="19" height="18" fill="#00ffb3"/>
<rect x="164" y="664" width="18" height="18" fill="#00ffd2"/>
<rect x="182" y="664" width="18" height="18" fill="#00f9ff"/>
<rect x="200" y="664" width="18" height="18" fill="#00dfff"/>
<rect x="218" y="664" width="18" height="18" fill="#00f9ff"/>
<rect x="236" y="664" width="19" height="18" fill="#00ffec"/>
<rect x="255" y="664" width="36" height="18" fill="#00ffdf"/>
<rect x="291" y="664" width="18" height="18" fill="#00fff2"/>
<rect x="309" y="664" width="18" height="18" fill="#00dfff"/>
<rect x="327" y="664" width="18" height="18" fill="#00afff"/>
<rect x="345" y="664" width="19" height="18" fill="#009fff"/>
<rect x="364" y="664" width="18" height="18" fill="#008fff"/>
<rect x="382" y="664" width="18" height="18" fill="#0080ff"/>
<rect x="400" y="664" width="18" height="18" fill="#0070ff"/>
<rect x="418" y="664" width="18" height="18" fill="#0060ff"/>
<rect x="436" y="664" width="19" height="18" fill="#0050ff"/>
<rect x="455" y="664" width="90" height="18" fill="#0030ff"/>
<rect x="545" y="664" width="37" height="18" fill="#0040ff"/>
<rect x="582" y="664" width="54" height="18" fill="#0050ff"/>
<rect x="636" y="664" width="19" height="18" fill="#0060ff"/>
<rect x="655" y="664" width="18" height="18" fill="#0070ff"/>
<rect x="673" y="664" width="18" height="18" fill="#0080ff"/>
<rect x="691" y="664" width="54" height="18" fill="#008fff"/>
<rect x="745" y="664" width="55" height="18" fill="#0080ff"/>
<rect x="0" y="682" width="18" height="18" fill="#00ff20"/>
<rect x="18" y="682" width="18" height="18" fill="#00ff40"/>
<rect x="36" y="682" width="19" height="18" fill="#00ff6c"/>
<rect x="55" y="682" width="18" height="18" fill="#00ff9f"/>
<rect x="73" y="682" width="18" height="18" fill="#00ffcc"/>
<rect x="91" y="682" width="36" height="18" fill="#00f9ff"/>
<rect x="127" y="682" width="18" height="18" fill="#00ffcc"/>
<rect x="145" y="682" width="19" height="18" fill="#00ffbf"/>
<rect x="164" y="682" width="18" height="18" fill="#00ffdf"/>
<rect x="182" y="682" width="18" height="18" fill="#00f9ff"/>
<rect x="200" y="682" width="36" height="18" fill="#00cfff"/>
<rect x="236" y="682" width="19" height="18" fill="#00dfff"/>
<rect x="255" y="682" width="36" height="18" fill="#00e9ff"/>
<rect x="291" y="682" width="18" height="18" fill="#00dfff"/>
<rect x="309" y="682" width="18" height="18" fill="#00bfff"/>
<rect x="327" y="682" width="18" height="18" fill="#00afff"/>
<rect x="345" y="682" width="19" height="18" fill="#009fff"/>
<rect x="364" y="682" width="18" height="18" fill="#008fff"/>
<rect x="382" y="682" width="18" height="18" fill="#0080ff"/>
<rect x="400" y="682" width="18" height="18" fill="#0070ff"/>
<rect x="418" y="682" width="18" height="18" fill="#0060ff"/>
<rect x="436" y="682" width="19" height="18" fill="#0040ff"/>
<rect x="455" y="682" width="36" height="18" fill="#0030ff"/>
<rect x="491" y="682" width="36" height="18" fill="#0020ff"/>
<rect x="527" y="682" width="37" height="18" fill="#0030ff"/>
<rect x="564" y="682" width="54" height="18" fill="#0040ff"/>
<rect x="618" y="682" width="18" height="18" fill="#0050ff"/>
<rect x="636" y="682" width="19" height="18" fill="#0060ff"/>
<rect x="655" y="682" width="18" height="18" fill="#0070ff"/>
<rect x="673" y="682" width="18" height="18" fill="#0080ff"/>
<rect x="691" y="682" width="36" height="18" fill="#008fff"/>
<rect x="727" y="682" width="37" height="18" fill="#009fff"/>
<rect x="764" y="682" width="18" height="18" fill="#008fff"/>
<rect x="782" y="682" width="18" height="18" fill="#0080ff"/>
<rect x="0" y="700" width="36" height="18" fill="#00ff2d"/>
<rect x="36" y="700" width="19" height="18" fill="#00ff59"/>
<rect x="55" y="700" width="18" height="18" fill="#00ff86"/>
<rect x="73" y="700" width="18" height="18" fill="#00ffac"/>
<rect x="91" y="700" width="18" height="18" fill="#00ffec"/>
<rect x="109" y="700" width="18" height="18" fill="#00ffff"/>
<rect x="127" y="700" width="18" height="18" fill="#00ffec"/>
<rect x="145" y="700" width="19" height="18" fill="#00ffdf"/>
<rect x="164" y="700" width="18" height="18" fill="#00ffff"/>
<rect x="182" y="700" width="18" height="18" fill="#00efff"/>
<rect x="200" y="700" width="18" height="18" fill="#00bfff"/>
<rect x="218" y="700" width="37" height="18" fill="#00afff"/>
<rect x="255" y="700" width="54" height="18" fill="#00bfff"/>
<rect x="309" y="700" width="36" height="18" fill="#00afff"/>
<rect x="345" y="700" width="19" height="18" fill="#009fff"/>
<rect x="364" y="700" width="18" height="18" fill="#008fff"/>
<rect x="382" y="700" width="18" height="18" fill="#0080ff"/>
<rect x="400" y="700" width="18" height="18" fill="#0070ff"/>
<rect x="418" y="700" width="18" height="18" fill="#0060ff"/>
<rect x="436" y="700" width="19" height="18" fill="#0040ff"/>
<rect x="455" y="700" width="18" height="18" fill="#0030ff"/>
<rect x="473" y="700" width="72" height="18" fill="#0020ff"/>
<rect x="545" y="700" width="37" height="18" fill="#0030ff"/>
<rect x="582" y="700" width="36" height="18" fill="#0040ff"/>
<rect x="618" y="700" width="18" height="18" fill="#0050ff"/>
<rect x="636" y="700" width="19" height="18" fill="#0060ff"/>
<rect x="655" y="700" width="18" height="18" fill="#0070ff"/>
<rect x="673" y="700" width="36" height="18" fill="#0080ff"/>
<rect x="709" y="700" width="18" height="18" fill="#008fff"/>
<rect x="727" y="700" width="18" height="18" fill="#009fff"/>
<rect x="745" y="700" width="37" height="18" fill="#00afff"/>
<rect x="782" y="700" width="18" height="18" fill="#008fff"/>
<rect x="0" y="718" width="18" height="18" fill="#00ff4c"/>
<rect x="18" y="718" width="18" height="18" fill="#00ff40"/>
<rect x="36" y="718" width="19" height="18" fill="#00ff60"/>
<rect x="55" y="718" width="18" height="18" fill="#00ff80"/>
<rect x="73" y="718" width="18" height="18" fill="#00ff9f"/>
<rect x="91" y="718" width="18" height="18" fill="#00ffd2"/>
<rect x="109" y="718" width="18" height="18" fill="#00fff2"/>
<rect x="127" y="718" width="18" height="18" fill="#00ffff"/>
<rect x="145" y="718" width="19" height="18" fill="#00f9ff"/>
<rect x="164" y="718" width="18" height="18" fill="#00cfff"/>
<rect x="182" y="718" width="18" height="18" fill="#00bfff"/>
<rect x="200" y="718" width="18" height="18" fill="#009fff"/>
<rect x="218" y="718" width="18" height="18" fill="#008fff"/>
<rect x="236" y="718" width="19" height="18" fill="#009fff"/>
<rect x="255" y="718" width="90" height="18" fill="#00afff"/>
<rect x="345" y="718" width="19" height="18" fill="#009fff"/>
<rect x="364" y="718" width="18" height="18" fill="#008fff"/>
<rect x="382" y="718" width="18" height="18" fill="#0086ff"/>
<rect x="400" y="718" width="18" height="18" fill="#0079ff"/>
<rect x="418" y="718" width="18" height="18" fill="#0066ff"/>
<rect x="436" y="718" width="19" height="18" fill="#0046ff"/>
<rect x="455" y="718" width="18" height="18" fill="#0030ff"/>
<rect x="473" y="718" width="18" height="18" fill="#0020ff"/>
<rect x="491" y="718" width="36" height="18" fill="#0016ff"/>
<rect x="527" y="718" width="37" height="18" fill="#0020ff"/>
<rect x="564" y="718" width="36" height="18" fill="#0030ff"/>
<rect x="600" y="718" width="18" height="18" fill="#0040ff"/>
<rect x="618" y="718" width="18" height="18" fill="#0050ff"/>
<rect x="636" y="718" width="19" height="18" fill="#0060ff"/>
<rect x="655" y="718" width="54" height="18" fill="#0080ff"/>
<rect x="709" y="718" width="18" height="18" fill="#008fff"/>
<rect x="727" y="718" width="18" height="18" fill="#009fff"/>
<rect x="745" y="718" width="37" height="18" fill="#00afff"/>
<rect x="782" y="718" width="18" height="18" fill="#009fff"/>
<rect x="0" y="736" width="36" height="18" fill="#00ff60"/>
<rect x="36" y="736" width="19" height="18" fill="#00ff6c"/>
<rect x="55" y="736" width="18" height="18" fill="#00ff80"/>
<rect x="73" y="736" width="18" height="18" fill="#00ff93"/>
<rect x="91" y="736" width="18" height="18" fill="#00ffb3"/>
<rect x="109" y="736" width="18" height="18" fill="#00ffec"/>
<rect x="127" y="736" width="18" height="18" fill="#00f9ff"/>
<rect x="145" y="736" width="19" height="18" fill="#00efff"/>
<rect x="164" y="736" width="18" height="18" fill="#00afff"/>
<rect x="182" y="736" width="18" height="18" fill="#0080ff"/>
<rect x="200" y="736" width="18" height="18" fill="#0050ff"/>
<rect x="218" y="736" width="18" height="18" fill="#0060ff"/>
<rect x="236" y="736" width="19" height="18" fill="#0080ff"/>
<rect x="255" y="736" width="18" height="18" fill="#008fff"/>
<rect x="273" y="736" width="72" height="18" fill="#009fff"/>
<rect x="345" y="736" width="19" height="18" fill="#0096ff"/>
<rect x="364" y="736" width="18" height="18" fill="#0086ff"/>
<rect x="382" y="736" width="18" height="18" fill="#0080ff"/>
<rect x="400" y="736" width="18" height="18" fill="#0076ff"/>
<rect x="418" y="736" width="18" height="18" fill="#0066ff"/>
<rect x="436" y="736" width="19" height="18" fill="#0046ff"/>
<rect x="455" y="736" width="18" height="18" fill="#0030ff"/>
<rect x="473" y="736" width="18" height="18" fill="#0020ff"/>
<rect x="491" y="736" width="18" height="18" fill="#0016ff"/>
<rect x="509" y="736" width="18" height="18" fill="#0010ff"/>
<rect x="527" y="736" width="18" height="18" fill="#0016ff"/>
<rect x="545" y="736" width="37" height="18" fill="#0020ff"/>
<rect x="582" y="736" width="36" height="18" fill="#0030ff"/>
<rect x="618" y="736" width="18" height="18" fill="#0050ff"/>
<rect x="636" y="736" width="19" height="18" fill="#0060ff"/>
<rect x="655" y="736" width="18" height="18" fill="#0076ff"/>
<rect x="673" y="736" width="54" height="18" fill="#0080ff"/>
<rect x="727" y="736" width="18" height="18" fill="#008fff"/>
<rect x="745" y="736" width="55" height="18" fill="#009fff"/>
<rect x="0" y="754" width="36" height="18" fill="#00ff6c"/>
<rect x="36" y="754" width="19" height="18" fill="#00ff73"/>
<rect x="55" y="754" width="18" height="18" fill="#00ff80"/>
<rect x="73" y="754" width="18" height="18" fill="#00ff93"/>
<rect x="91" y="754" width="18" height="18" fill="#00ffac"/>
<rect x="109" y="754" width="18" height="18" fill="#00ffdf"/>
<rect x="127" y="754" width="18" height="18" fill="#00f9ff"/>
<rect x="145" y="754" width="19" height="18" fill="#00efff"/>
<rect x="164" y="754" width="18" height="18" fill="#00afff"/>
<rect x="182" y="754" width="18" height="18" fill="#0070ff"/>
<rect x="200" y="754" width="18" height="18" fill="#0040ff"/>
<rect x="218" y="754" width="18" height="18" fill="#0050ff"/>
<rect x="236" y="754" width="19" height="18" fill="#0070ff"/>
<rect x="255" y="754" width="36" height="18" fill="#0089ff"/>
<rect x="291" y="754" width="36" height="18" fill="#008fff"/>
<rect x="327" y="754" width="18" height="18" fill="#0086ff"/>
<rect x="345" y="754" width="19" height="18" fill="#0080ff"/>
<rect x="364" y="754" width="18" height="18" fill="#0070ff"/>
<rect x="382" y="754" width="36" height="18" fill="#0060ff"/>
<rect x="418" y="754" width="18" height="18" fill="#0050ff"/>
<rect x="436" y="754" width="19" height="18" fill="#0040ff"/>
<rect x="455" y="754" width="18" height="18" fill="#0030ff"/>
<rect x="473" y="754" width="54" height="18" fill="#0020ff"/>
<rect x="527" y="754" width="37" height="18" fill="#0016ff"/>
<rect x="564" y="754" width="18" height="18" fill="#0020ff"/>
<rect x="582" y="754" width="36" height="18" fill="#0030ff"/>
<rect x="618" y="754" width="18" height="18" fill="#0050ff"/>
<rect x="636" y="754" width="19" height="18" fill="#0060ff"/>
<rect x="655" y="754" width="18" height="18" fill="#0069ff"/>
<rect x="673" y="754" width="54" height="18" fill="#0070ff"/>
<rect x="727" y="754" width="18" height="18" fill="#0080ff"/>
<rect x="745" y="754" width="55" height="18" fill="#008fff"/>
</g>
<g stroke="#fff" stroke-width="1" fill="none" shape-rendering="crispEdges" clip-path="url(#mapclip)">
<path d="M718.6 36.6L715.7 44.5M718.2 42.4L715.7 44.5L715.2 41.3M773.1 36.6L764.6 48.8M769.7 46.4L764.6 48.8L765.1 43.2M791.3 36.6L780.6 51.9M787.0 48.9L780.6 51.9L781.2 44.8M700.4 54.8L698.0 58.9M700.2 57.7L698.0 58.9L698.0 56.4M718.6 54.8L716.4 62.9M718.7 60.6L716.4 62.9L715.6 59.8M755.0 54.8L749.9 65.7M753.6 63.0L749.9 65.7L749.5 61.1M773.1 54.8L762.8 71.2M769.3 67.8L762.8 71.2L763.1 63.8M791.3 54.8L780.2 70.6M786.9 67.5L780.2 70.6L780.9 63.3M682.2 73.0L678.0 77.2M680.4 76.6L678.0 77.2L678.6 74.8M700.4 73.0L695.8 76.8M698.3 76.4L695.8 76.8L696.7 74.5M718.6 73.0L715.2 77.9M717.5 76.8L715.2 77.9L715.4 75.4M736.8 73.0L733.3 77.9M735.6 76.8L733.3 77.9L733.5 75.4M755.0 73.0L748.7 83.2M752.7 81.0L748.7 83.2L748.8 78.7M773.1 73.0L764.5 85.9M769.8 83.3L764.5 85.9L764.9 80.0M791.3 73.0L781.7 86.7M787.5 84.0L781.7 86.7L782.2 80.4M664.0 91.1L659.1 94.6M661.6 94.4L659.1 94.6L660.2 92.3M682.2 91.1L676.3 97.1M679.4 96.3L676.3 97.1L677.1 94.0M700.4 91.1L694.5 97.1M697.6 96.3L694.5 97.1L695.3 94.0M718.6 91.1L713.1 97.5M716.1 96.4L713.1 97.5L713.7 94.4M736.8 91.1L731.4 97.6M734.4 96.5L731.4 97.6L731.9 94.4M755.0 91.1L748.4 99.7M752.2 98.1L748.4 99.7L748.9 95.7M773.1 91.1L766.3 101.0M770.4 99.1L766.3 101.0L766.7 96.5M791.3 91.1L783.7 102.0M788.3 99.8L783.7 102.0L784.2 97.0M682.2 109.3L675.3 119.2M679.5 117.2L675.3 119.2L675.7 114.6M700.4 109.3L692.3 119.7M696.9 117.8L692.3 119.7L693.0 114.7M718.6 109.3L711.1 118.7M715.3 117.0L711.1 118.7L711.8 114.2M736.8 109.3L729.1 118.5M733.3 117.0L729.1 118.5L729.9 114.0M755.0 109.3L748.8 118.2M752.5 116.4L748.8 118.2L749.1 114.1M773.1 109.3L767.8 117.3M771.1 115.7L767.8 117.3L768.1 113.7M791.3 109.3L785.1 118.2M788.8 116.4L785.1 118.2L785.5 114.1M664.0 127.5L660.4 133.7M662.8 132.4L660.4 133.7L660.4 131.0M682.2 127.5L675.9 137.7M679.9 135.5L675.9 137.7L676.0 133.1M700.4 127.5L692.1 139.3M697.1 137.0L692.1 139.3L692.6 133.9M718.6 127.5L711.2 138.4M715.7 136.2L711.2 138.4L711.6 133.4M736.8 127.5L730.2 137.6M734.3 135.5L730.2 137.6L730.5 133.0M755.0 127.5L749.6 136.9M753.1 134.8L749.6 136.9L749.6 132.8M773.1 127.5L768.4 135.8M771.5 134.0L768.4 135.8L768.3 132.2M791.3 127.5L785.9 136.9M789.5 134.8L785.9 136.9L785.9 132.8M645.9 145.7L645.2 149.2M646.8 147.3L645.2 149.2L644.4 146.9M664.0 145.7L661.4 152.4M663.6 150.7L661.4 152.4L661.0 149.7M682.2 145.7L676.2 156.1M680.2 153.8L676.2 156.1L676.2 151.5M700.4 145.7L693.8 157.1M698.2 154.6L693.8 157.1L693.8 152.1M718.6 145.7L712.2 157.2M716.5 154.7L712.2 157.2L712.1 152.2M736.8 145.7L730.8 156.1M734.7 153.8L730.8 156.1L730.8 151.5M755.0 145.7L749.7 155.1M753.2 153.0L749.7 155.1L749.7 151.0M773.1 145.7L769.0 154.4M772.0 152.3L769.0 154.4L768.7 150.7M791.3 145.7L787.3 154.4M790.2 152.3L787.3 154.4L786.9 150.8M645.9 163.9L645.5 167.5M647.0 165.4L645.5 167.5L644.5 165.2M664.0 163.9L662.8 171.0M664.6 168.9L662.8 171.0L661.9 168.4M682.2 163.9L678.9 172.9M681.7 170.5L678.9 172.9L678.3 169.3M700.4 163.9L696.9 175.4M700.3 172.2L696.9 175.4L695.9 170.9M718.6 163.9L714.0 175.0M717.6 172.2L714.0 175.0L713.4 170.4M736.8 163.9L731.7 174.7M735.4 172.1L731.7 174.7L731.3 170.2M755.0 163.9L750.5 173.7M753.9 171.3L750.5 173.7L750.1 169.6M773.1 163.9L770.0 172.9M772.7 170.6L770.0 172.9L769.3 169.3M791.3 163.9L788.0 172.9M790.8 170.5L788.0 172.9L787.4 169.3M627.7 182.1L628.0 185.6M629.1 183.4L628.0 185.6L626.6 183.6M645.9 182.1L645.9 188.5M647.1 186.4L645.9 188.5L644.6 186.4M664.0 182.1L664.0 190.0M665.6 187.4L664.0 190.0L662.5 187.4M682.2 182.1L680.9 190.4M682.9 187.9L680.9 190.4L679.8 187.4M700.4 182.1L699.0 190.3M701.0 187.9L699.0 190.3L697.9 187.3M718.6 182.1L716.8 191.5M719.2 188.7L716.8 191.5L715.6 188.0M736.8 182.1L734.7 191.4M737.2 188.7L734.7 191.4L733.6 188.0M755.0 182.1L752.8 191.9M755.4 189.1L752.8 191.9L751.7 188.3M773.1 182.1L771.3 192.0M773.8 189.1L771.3 192.0L770.0 188.4M791.3 182.1L789.6 192.0M792.0 189.0L789.6 192.0L788.3 188.4M609.5 200.2l0.4 2.4M627.7 200.2L628.6 204.9M629.4 202.6L628.6 204.9L627.0 203.1M645.9 200.2L646.6 207.4M647.7 204.9L646.6 207.4L645.0 205.2M664.0 200.2L664.4 209.1M665.9 206.1L664.4 209.1L662.6 206.2M682.2 200.2L682.3 208.6M683.9 205.9L682.3 208.6L680.7 205.9M700.4 200.2L699.4 209.1M701.4 206.3L699.4 209.1L698.1 206.0M718.6 200.2L718.3 209.4M720.2 206.4L718.3 209.4L716.7 206.3M736.8 200.2L736.8 209.8M738.6 206.7L736.8 209.8L734.9 206.7M755.0 200.2L754.8 211.0M756.9 207.5L754.8 211.0L752.8 207.5M773.1 200.2L772.8 211.0M775.0 207.5L772.8 211.0L770.9 207.4M791.3 200.2L791.3 211.0M793.4 207.5L791.3 211.0L789.3 207.5M591.3 218.4l0.8 2.3M609.5 218.4L611.9 221.1M611.4 218.6L611.9 221.1L609.5 220.3M627.7 218.4L629.1 226.2M630.1 223.4L629.1 226.2L627.1 223.9M645.9 218.4L649.0 228.3M649.8 224.4L649.0 228.3L646.1 225.6M664.0 218.4L664.0 229.9M666.2 226.1L664.0 229.9L661.9 226.1M682.2 218.4L683.2 229.7M685.0 225.8L683.2 229.7L680.7 226.1M700.4 218.4L702.0 229.1M703.5 225.3L702.0 229.1L699.5 225.9M718.6 218.4L719.2 228.7M720.9 225.2L719.2 228.7L717.0 225.4M736.8 218.4L737.1 229.2M739.1 225.6L737.1 229.2L735.0 225.7M755.0 218.4L755.3 229.2M757.2 225.6L755.3 229.2L753.1 225.7M773.1 218.4L773.7 229.2M775.6 225.5L773.7 229.2L771.5 225.8M791.3 218.4L791.7 229.2M793.6 225.6L791.7 229.2L789.5 225.7M573.1 236.6L580.8 227.4M576.6 229.0L580.8 227.4L580.1 231.9M591.3 236.6L599.6 230.8M595.8 231.2L599.6 230.8L598.0 234.3M609.5 236.6L616.9 233.9M614.0 233.4L616.9 233.9L615.0 236.2M627.7 236.6L637.8 240.3M635.2 237.1L637.8 240.3L633.8 241.0M645.9 236.6L651.9 247.0M651.9 242.4L651.9 247.0L647.9 244.7M664.0 236.6L665.8 249.0M667.6 244.6L665.8 249.0L662.9 245.2M682.2 236.6L684.7 249.1M686.3 244.5L684.7 249.1L681.6 245.4M700.4 236.6L702.5 248.4M704.1 244.1L702.5 248.4L699.6 244.9M718.6 236.6L720.7 248.4M722.2 244.1L720.7 248.4L717.7 244.9M736.8 236.6L737.5 247.4M739.3 243.7L737.5 247.4L735.2 244.0M755.0 236.6L756.0 247.3M757.7 243.6L756.0 247.3L753.6 244.0M773.1 236.6L775.1 247.2M776.5 243.4L775.1 247.2L772.4 244.1M791.3 236.6L793.6 247.2M794.8 243.3L793.6 247.2L790.8 244.1M555.0 254.8L562.3 245.3M558.1 247.0L562.3 245.3L561.7 249.8M573.1 254.8L583.5 241.5M577.6 243.9L583.5 241.5L582.6 247.9M591.3 254.8L601.0 245.1M596.0 246.5L601.0 245.1L599.6 250.1M609.5 254.8L618.1 251.7M614.7 251.1L618.1 251.7L615.8 254.3M627.7 254.8L637.1 256.4M634.3 254.1L637.1 256.4L633.7 257.7M645.9 254.8L652.8 263.1M652.1 259.0L652.8 263.1L648.9 261.7M664.0 254.8L667.3 266.8M668.5 262.3L667.3 266.8L663.9 263.5M682.2 254.8L686.5 268.5M687.7 263.2L686.5 268.5L682.5 264.8M700.4 254.8L704.1 268.7M705.6 263.4L704.1 268.7L700.3 264.8M718.6 254.8L722.2 268.0M723.5 262.9L722.2 268.0L718.5 264.3M736.8 254.8L739.7 266.4M740.9 262.0L739.7 266.4L736.5 263.1M755.0 254.8L757.5 265.3M758.6 261.3L757.5 265.3L754.7 262.3M773.1 254.8L775.9 265.2M777.0 261.3L775.9 265.2L773.0 262.3M791.3 254.8L794.1 265.2M795.2 261.2L794.1 265.2L791.2 262.3M209.5 273.0L214.0 260.6M210.2 263.8L214.0 260.6L214.9 265.5M555.0 273.0L567.1 256.8M560.0 259.8L567.1 256.8L566.2 264.4M573.1 273.0L584.8 257.5M578.0 260.4L584.8 257.5L583.9 264.8M591.3 273.0L602.7 263.4M597.1 264.4L602.7 263.4L600.8 268.7M609.5 273.0L619.4 271.2M615.8 269.9L619.4 271.2L616.5 273.7M627.7 273.0L636.7 276.2M634.4 273.5L636.7 276.2L633.1 276.9M645.9 273.0L652.8 281.2M652.1 277.2L652.8 281.2L648.9 279.8M664.0 273.0L668.6 285.4M669.4 280.4L668.6 285.4L664.7 282.1M682.2 273.0L688.4 287.8M689.2 281.7L688.4 287.8L683.6 284.1M700.4 273.0L706.2 288.8M707.3 282.5L706.2 288.8L701.3 284.6M718.6 273.0L724.0 287.6M725.0 281.8L724.0 287.6L719.4 283.8M736.8 273.0L741.5 285.3M742.3 280.4L741.5 285.3L737.6 282.1M755.0 273.0L758.9 284.3M759.7 279.8L758.9 284.3L755.4 281.3M773.1 273.0L776.7 283.2M777.4 279.1L776.7 283.2L773.6 280.5M791.3 273.0L795.0 283.1M795.7 279.1L795.0 283.1L791.9 280.5M209.5 291.1L214.1 281.4M210.7 283.7L214.1 281.4L214.4 285.4M227.7 291.1L233.0 281.7M229.5 283.8L233.0 281.7L233.0 285.9M245.9 291.1L251.9 280.8M247.9 283.0L251.9 280.8L251.9 285.3M264.0 291.1L270.5 281.0M266.4 283.1L270.5 281.0L270.3 285.6M282.2 291.1L287.6 281.8M284.1 283.8L287.6 281.8L287.6 285.9M536.8 291.1L533.5 272.7M531.1 279.4L533.5 272.7L538.1 278.2M555.0 291.1L562.0 271.9M556.0 276.9L562.0 271.9L563.3 279.6M573.1 291.1L580.1 271.9M574.2 276.9L580.1 271.9L581.5 279.6M591.3 291.1L599.4 277.2M594.1 280.3L599.4 277.2L599.4 283.3M609.5 291.1L618.2 286.1M614.4 286.1L618.2 286.1L616.3 289.4M627.7 291.1L637.2 292.0M634.3 289.9L637.2 292.0L633.9 293.5M645.9 291.1L655.7 298.0M653.8 293.9L655.7 298.0L651.2 297.6M664.0 291.1L671.2 303.6M671.2 298.1L671.2 303.6L666.5 300.9M682.2 291.1L690.2 305.9M690.4 299.5L690.2 305.9L684.8 302.6M700.4 291.1L707.2 307.8M708.1 301.1L707.2 307.8L701.8 303.6M718.6 291.1L725.2 306.6M726.0 300.2L725.2 306.6L720.1 302.8M736.8 291.1L743.0 304.1M743.4 298.7L743.0 304.1L738.5 301.0M755.0 291.1L759.6 302.2M760.2 297.7L759.6 302.2L756.0 299.5M773.1 291.1L777.3 302.4M778.1 297.9L777.3 302.4L773.8 299.5M791.3 291.1L795.0 301.3M795.7 297.3L795.0 301.3L791.9 298.7M227.7 309.3L233.2 301.5M229.9 303.0L233.2 301.5L232.9 305.1M245.9 309.3L252.6 299.4M248.5 301.4L252.6 299.4L252.3 304.0M264.0 309.3L271.6 298.5M267.1 300.6L271.6 298.5L271.2 303.5M282.2 309.3L290.1 298.7M285.5 300.7L290.1 298.7L289.5 303.7M300.4 309.3L308.8 300.8M304.4 302.0L308.8 300.8L307.7 305.2M318.6 309.3L325.5 301.1M321.7 302.5L325.5 301.1L324.8 305.1M500.4 309.3L500.4 297.3M498.1 301.3L500.4 297.3L502.7 301.3M518.6 309.3L515.9 294.0M513.9 299.5L515.9 294.0L519.7 298.5M536.8 309.3L533.4 290.2M530.9 297.1L533.4 290.2L538.1 295.9M555.0 309.3L557.1 289.0M552.5 295.3L557.1 289.0L560.2 296.1M573.1 309.3L576.7 288.9M571.7 295.0L576.7 288.9L579.4 296.3M591.3 309.3L597.3 292.9M592.2 297.1L597.3 292.9L598.5 299.4M609.5 309.3L617.1 301.7M613.2 302.8L617.1 301.7L616.1 305.7M627.7 309.3L637.2 308.5M633.9 306.9L637.2 308.5L634.3 310.6M645.9 309.3L656.3 315.3M654.0 311.4L656.3 315.3L651.7 315.3M664.0 309.3L672.3 321.1M671.8 315.7L672.3 321.1L667.3 318.8M682.2 309.3L691.4 323.4M691.1 317.0L691.4 323.4L685.7 320.5M700.4 309.3L708.0 325.6M708.6 318.8L708.0 325.6L702.4 321.7M718.6 309.3L726.1 324.3M726.5 318.0L726.1 324.3L720.8 320.8M736.8 309.3L744.0 321.8M744.0 316.3L744.0 321.8L739.2 319.1M755.0 309.3L760.7 321.2M761.1 316.2L760.7 321.2L756.6 318.4M773.1 309.3L777.4 320.5M778.1 316.0L777.4 320.5L773.9 317.7M791.3 309.3L795.4 320.6M796.2 316.1L795.4 320.6L791.9 317.7M264.0 327.5L272.5 319.0M268.1 320.2L272.5 319.0L271.4 323.4M282.2 327.5L291.9 318.6M287.0 319.7L291.9 318.6L290.4 323.4M300.4 327.5L310.5 319.0M305.6 319.9L310.5 319.0L308.8 323.7M318.6 327.5L328.9 319.3M323.9 320.0L328.9 319.3L327.1 323.9M336.8 327.5L345.0 320.6M341.0 321.3L345.0 320.6L343.6 324.4M355.0 327.5L361.4 322.1M358.2 322.7L361.4 322.1L360.3 325.1M373.1 327.5L377.3 329.9M376.0 327.7L377.3 329.9L374.8 329.9M391.3 327.5L394.4 329.3M393.2 327.1L394.4 329.3L391.9 329.3M409.5 327.5L405.0 325.9M406.6 327.8L405.0 325.9L407.5 325.4M427.7 327.5L421.9 326.0M423.7 327.7L421.9 326.0L424.3 325.3M445.9 327.5L440.5 321.1M441.0 324.2L440.5 321.1L443.5 322.2M464.0 327.5L461.3 317.1M460.2 321.0L461.3 317.1L464.2 320.0M482.2 327.5L478.1 313.7M476.8 319.0L478.1 313.7L482.1 317.5M500.4 327.5L497.8 312.1M495.7 317.7L497.8 312.1L501.5 316.7M518.6 327.5L513.9 310.1M512.2 316.7L513.9 310.1L518.8 315.0M536.8 327.5L533.3 307.8M530.7 314.9L533.3 307.8L538.2 313.6M555.0 327.5L551.4 307.4M548.8 314.7L551.4 307.4L556.4 313.4M573.1 327.5L573.5 307.1M569.5 313.8L573.5 307.1L577.2 313.9M591.3 327.5L589.6 307.4M586.3 314.3L589.6 307.4L594.0 313.7M609.5 327.5L614.0 315.1M610.2 318.3L614.0 315.1L614.9 320.0M627.7 327.5L637.5 322.9M633.4 322.6L637.5 322.9L635.1 326.3M645.9 327.5L657.8 333.1M654.9 329.0L657.8 333.1L652.8 333.5M664.0 327.5L673.3 338.5M672.4 333.2L673.3 338.5L668.2 336.7M682.2 327.5L691.9 339.7M691.0 333.9L691.9 339.7L686.4 337.6M700.4 327.5L708.3 342.3M708.5 336.0L708.3 342.3L702.9 339.0M718.6 327.5L727.1 342.0M727.0 335.6L727.1 342.0L721.5 338.9M736.8 327.5L745.9 340.2M745.3 334.3L745.9 340.2L740.5 337.7M755.0 327.5L762.3 339.9M762.2 334.4L762.3 339.9L757.5 337.2M773.1 327.5L778.8 340.7M779.5 335.3L778.8 340.7L774.4 337.5M791.3 327.5L796.7 340.9M797.5 335.4L796.7 340.9L792.4 337.5M300.4 345.7L311.2 338.1M306.2 338.6L311.2 338.1L309.1 342.7M318.6 345.7L331.1 338.5M325.6 338.5L331.1 338.5L328.3 343.2M336.8 345.7L347.6 338.1M342.6 338.6L347.6 338.1L345.5 342.7M355.0 345.7L362.2 341.5M359.0 341.5L362.2 341.5L360.6 344.3M373.1 345.7L368.6 347.3M371.1 347.8L368.6 347.3L370.2 345.4M391.3 345.7l-0.8 2.3M409.5 345.7L406.0 345.1M407.9 346.7L406.0 345.1L408.3 344.2M427.7 345.7L423.0 344.4M424.8 346.2L423.0 344.4L425.5 343.8M445.9 345.7L439.6 342.1M441.0 344.5L439.6 342.1L442.4 342.1M464.0 345.7L460.4 335.5M459.6 339.6L460.4 335.5L463.5 338.2M482.2 345.7L477.0 333.6M476.4 338.5L477.0 333.6L481.0 336.6M500.4 345.7L495.2 329.7M493.9 336.0L495.2 329.7L499.9 334.0M518.6 345.7L513.0 328.6M511.6 335.3L513.0 328.6L518.1 333.1M536.8 345.7L531.9 326.9M529.9 334.0L531.9 326.9L537.0 332.2M555.0 345.7L549.9 326.7M547.9 333.9L549.9 326.7L555.1 332.0M573.1 345.7L570.1 326.2M567.4 333.2L570.1 326.2L574.8 332.1M591.3 345.7L587.8 326.0M585.2 333.1L587.8 326.0L592.7 331.8M609.5 345.7L606.2 327.3M603.8 333.9L606.2 327.3L610.8 332.7M627.7 345.7L638.1 339.7M633.5 339.7L638.1 339.7L635.8 343.6M645.9 345.7L658.9 348.0M655.0 344.8L658.9 348.0L654.1 349.7M664.0 345.7L674.2 354.2M672.4 349.5L674.2 354.2L669.2 353.3M682.2 345.7L693.0 355.3M691.3 350.1L693.0 355.3L687.6 354.2M700.4 345.7L708.2 359.2M708.2 353.3L708.2 359.2L703.1 356.2M718.6 345.7L727.5 358.5M727.0 352.6L727.5 358.5L722.2 356.0M736.8 345.7L747.0 357.5M745.9 351.7L747.0 357.5L741.4 355.5M755.0 345.7L763.8 357.0M763.1 351.6L763.8 357.0L758.8 355.0M773.1 345.7L779.6 358.6M779.9 353.1L779.6 358.6L775.0 355.6M791.3 345.7L797.4 358.7M797.9 353.3L797.4 358.7L792.9 355.6M300.4 363.9L311.8 357.3M306.8 357.3L311.8 357.3L309.3 361.6M318.6 363.9L331.6 357.8M326.2 357.3L331.6 357.8L328.5 362.3M336.8 363.9L348.2 357.3M343.2 357.3L348.2 357.3L345.7 361.6M355.0 363.9L362.8 361.0M359.7 360.4L362.8 361.0L360.8 363.4M373.1 363.9L368.7 365.7M371.2 366.0L368.7 365.7L370.2 363.7M391.3 363.9l-2.2 0.9M409.5 363.9l-1.7 0.0M427.7 363.9L424.1 363.2M426.1 364.9L424.1 363.2L426.5 362.4M445.9 363.9L440.7 360.9M441.9 363.0L440.7 360.9L443.2 360.9M464.0 363.9L460.5 356.3M460.2 359.4L460.5 356.3L463.1 358.1M482.2 363.9L476.4 353.4M476.3 357.9L476.4 353.4L480.3 355.7M500.4 363.9L493.6 349.8M493.2 355.7L493.6 349.8L498.5 353.2M518.6 363.9L512.8 348.1M511.7 354.4L512.8 348.1L517.7 352.2M536.8 363.9L531.8 346.6M530.1 353.2L531.8 346.6L536.7 351.3M555.0 363.9L550.1 345.8M548.3 352.7L550.1 345.8L555.1 350.8M573.1 363.9L569.5 345.5M567.2 352.3L569.5 345.5L574.2 350.9M591.3 363.9L587.2 344.3M584.8 351.5L587.2 344.3L592.2 350.0M609.5 363.9L604.3 344.4M602.3 351.8L604.3 344.4L609.7 349.8M627.7 363.9L625.2 349.7M623.3 354.8L625.2 349.7L628.7 353.9M645.9 363.9L655.2 358.5M651.1 358.5L655.2 358.5L653.2 362.0M664.0 363.9L674.7 365.7M671.5 363.1L674.7 365.7L670.8 367.2M682.2 363.9L692.3 372.4M690.6 367.6L692.3 372.4L687.4 371.5M700.4 363.9L711.4 373.2M709.5 368.0L711.4 373.2L706.0 372.2M718.6 363.9L726.9 375.7M726.4 370.2L726.9 375.7L721.9 373.4M736.8 363.9L747.2 375.5M746.0 369.7L747.2 375.5L741.5 373.7M755.0 363.9L766.3 374.6M764.6 368.9L766.3 374.6L760.5 373.2M773.1 363.9L780.7 376.1M780.5 370.7L780.7 376.1L775.9 373.5M791.3 363.9L798.1 376.6M798.3 371.1L798.1 376.6L793.4 373.7M282.2 382.1L289.5 377.9M286.3 377.9L289.5 377.9L287.9 380.6M300.4 382.1L311.3 377.0M306.7 376.6L311.3 377.0L308.7 380.7M318.6 382.1L331.0 377.5M326.1 376.7L331.0 377.5L327.8 381.4M336.8 382.1L348.0 378.0M343.6 377.2L348.0 378.0L345.1 381.4M355.0 382.1L363.3 381.3M360.4 380.0L363.3 381.3L360.7 383.2M373.1 382.1L368.4 382.9M370.8 383.7L368.4 382.9L370.3 381.3M391.3 382.1L387.9 383.3M390.4 383.7L387.9 383.3L389.5 381.4M409.5 382.1l-1.2 0.2M427.7 382.1l-2.4 0.0M445.9 382.1L441.7 379.7M443.0 381.8L441.7 379.7L444.2 379.7M464.0 382.1L459.9 376.2M460.2 378.9L459.9 376.2L462.4 377.3M482.2 382.1L477.5 375.1M477.8 378.3L477.5 375.1L480.4 376.5M500.4 382.1L494.2 373.2M494.6 377.3L494.2 373.2L497.9 374.9M518.6 382.1L513.5 369.9M512.9 374.8L513.5 369.9L517.5 372.9M536.8 382.1L533.0 368.1M531.6 373.4L533.0 368.1L536.9 372.0M555.0 382.1L551.2 366.9M549.6 372.6L551.2 366.9L555.3 371.2M573.1 382.1L570.5 366.7M568.4 372.2L570.5 366.7L574.3 371.2M591.3 382.1L588.4 365.5M586.2 371.5L588.4 365.5L592.5 370.4M609.5 382.1L604.5 363.3M602.6 370.4L604.5 363.3L609.7 368.5M627.7 382.1L619.9 362.9M618.8 370.7L619.9 362.9L626.1 367.7M645.9 382.1L640.7 366.1M639.3 372.3L640.7 366.1L645.4 370.3M664.0 382.1L674.4 376.1M669.9 376.1L674.4 376.1L672.2 380.0M682.2 382.1L693.0 381.1M689.3 379.4L693.0 381.1L689.6 383.5M700.4 382.1L711.8 388.7M709.3 384.3L711.8 388.7L706.8 388.7M718.6 382.1L731.6 388.2M728.5 383.7L731.6 388.2L726.2 388.6M736.8 382.1L746.0 393.1M745.1 387.7L746.0 393.1L740.9 391.2M755.0 382.1L767.6 391.3M765.2 385.8L767.6 391.3L761.7 390.6M773.1 382.1L783.6 393.6M782.3 387.8L783.6 393.6L777.9 391.8M791.3 382.1L799.6 395.3M799.4 389.4L799.6 395.3L794.4 392.5M282.2 400.2L289.8 396.7M286.7 396.4L289.8 396.7L288.0 399.3M300.4 400.2L310.8 397.4M306.9 396.4L310.8 397.4L307.9 400.3M318.6 400.2L330.2 397.1M325.8 396.0L330.2 397.1L327.0 400.4M336.8 400.2L347.4 398.4M343.6 397.0L347.4 398.4L344.3 401.0M355.0 400.2L363.3 401.0M360.7 399.1L363.3 401.0L360.4 402.3M373.1 400.2L378.5 403.0M377.1 400.9L378.5 403.0L376.0 403.1M391.3 400.2L389.0 403.0M391.3 402.1L389.0 403.0L389.4 400.5M409.5 400.2l-1.6 0.6M427.7 400.2l-1.7 0.3M445.9 400.2L444.1 397.1M444.1 399.6L444.1 397.1L446.2 398.4M464.0 400.2L460.2 395.6M460.6 398.1L460.2 395.6L462.5 396.5M482.2 400.2L478.7 394.0M478.7 396.7L478.7 394.0L481.0 395.4M500.4 400.2L494.9 392.4M495.2 396.0L494.9 392.4L498.2 393.9M518.6 400.2L514.5 390.2M513.9 394.3L514.5 390.2L517.7 392.8M536.8 400.2L533.7 388.6M532.5 393.0L533.7 388.6L536.9 391.9M555.0 400.2L552.0 387.4M550.5 392.2L552.0 387.4L555.4 391.0M573.1 400.2L571.4 385.9M569.2 391.0L571.4 385.9L574.7 390.3M591.3 400.2L590.1 385.9M587.8 390.9L590.1 385.9L593.2 390.4M609.5 400.2L606.6 384.9M604.7 390.5L606.6 384.9L610.5 389.4M627.7 400.2L623.0 382.8M621.3 389.5L623.0 382.8L627.9 387.7M645.9 400.2L642.3 381.9M640.0 388.6L642.3 381.9L647.0 387.2M664.0 400.2L656.8 382.2M655.8 389.5L656.8 382.2L662.6 386.8M682.2 400.2L677.3 386.7M676.4 392.1L677.3 386.7L681.5 390.2M700.4 400.2L709.8 394.8M705.7 394.8L709.8 394.8L707.7 398.4M718.6 400.2L729.2 398.4M725.4 397.0L729.2 398.4L726.1 401.0M736.8 400.2L749.5 403.7M746.0 400.1L749.5 403.7L744.7 405.0M755.0 400.2L767.7 409.2M765.2 403.8L767.7 409.2L761.8 408.7M773.1 400.2L789.5 407.6M785.6 402.1L789.5 407.6L782.7 408.3M791.3 400.2L804.6 413.5M802.7 406.6L804.6 413.5L797.7 411.6M300.4 418.4L309.9 416.8M306.4 415.5L309.9 416.8L307.1 419.1M318.6 418.4L329.3 417.5M325.6 415.7L329.3 417.5L326.0 419.8M336.8 418.4L346.3 419.3M343.3 417.2L346.3 419.3L343.0 420.8M355.0 418.4L363.2 419.9M360.8 417.8L363.2 419.9L360.2 421.0M373.1 418.4L378.8 420.5M377.2 418.6L378.8 420.5L376.3 420.9M391.3 418.4L395.5 420.8M394.2 418.7L395.5 420.8L393.0 420.8M409.5 418.4L406.4 420.2M408.9 420.2L406.4 420.2L407.6 418.1M427.7 418.4L424.3 419.6M426.8 420.1L424.3 419.6L425.9 417.7M445.9 418.4L445.9 414.8M444.6 417.0L445.9 414.8L447.1 417.0M464.0 418.4L462.6 413.8M462.1 416.3L462.6 413.8L464.5 415.5M482.2 418.4L480.7 412.6M480.0 415.0L480.7 412.6L482.4 414.4M500.4 418.4L497.9 411.7M497.4 414.4L497.9 411.7L500.0 413.4M518.6 418.4L516.3 410.3M515.5 413.4L516.3 410.3L518.6 412.6M536.8 418.4L534.9 407.8M533.5 411.6L534.9 407.8L537.5 410.9M555.0 418.4L552.1 406.8M550.8 411.1L552.1 406.8L555.3 410.1M573.1 418.4L571.1 405.4M569.3 410.0L571.1 405.4L574.3 409.3M591.3 418.4L590.1 404.1M587.8 409.0L590.1 404.1L593.2 408.6M609.5 418.4L607.0 403.0M604.9 408.5L607.0 403.0L610.8 407.6M627.7 418.4L626.3 402.9M623.8 408.3L626.3 402.9L629.7 407.7M645.9 418.4L642.5 402.0M640.5 408.0L642.5 402.0L646.7 406.7M664.0 418.4L658.3 400.6M656.8 407.6L658.3 400.6L663.5 405.4M682.2 418.4L677.1 398.9M675.1 406.3L677.1 398.9L682.5 404.3M700.4 418.4L691.0 400.8M690.8 408.4L691.0 400.8L697.5 404.8M718.6 418.4L710.8 404.9M710.8 410.8L710.8 404.9L715.9 407.9M736.8 418.4L742.8 408.0M738.8 410.3L742.8 408.0L742.8 412.6M755.0 418.4L769.6 414.5M764.0 413.0L769.6 414.5L765.5 418.6M773.1 418.4L791.8 420.0M786.0 416.0L791.8 420.0L785.3 423.1M791.3 418.4L809.6 425.1M804.9 419.4L809.6 425.1L802.3 426.4M336.8 436.6L345.2 436.6M342.4 435.0L345.2 436.6L342.4 438.2M355.0 436.6L363.2 438.1M360.8 436.0L363.2 438.1L360.2 439.2M373.1 436.6L379.7 439.6M378.1 437.4L379.7 439.6L376.9 439.9M391.3 436.6L395.7 438.6M394.2 436.6L395.7 438.6L393.2 438.8M409.5 436.6L414.2 435.8M411.9 434.9L414.2 435.8L412.3 437.4M427.7 436.6L430.8 432.9M428.4 433.8L430.8 432.9L430.3 435.4M445.9 436.6L445.0 431.9M444.2 434.2L445.0 431.9L446.6 433.8M464.0 436.6L462.8 432.0M462.2 434.4L462.8 432.0L464.6 433.7M482.2 436.6L480.2 431.0M479.7 433.4L480.2 431.0L482.1 432.6M500.4 436.6L498.4 431.0M497.9 433.4L498.4 431.0L500.3 432.6M518.6 436.6L516.1 429.8M515.7 432.5L516.1 429.8L518.2 431.6M536.8 436.6L534.7 428.5M533.8 431.5L534.7 428.5L536.9 430.7M555.0 436.6L551.7 427.6M551.0 431.2L551.7 427.6L554.5 429.9M573.1 436.6L570.1 425.0M568.9 429.4L570.1 425.0L573.3 428.2M591.3 436.6L587.9 423.8M586.6 428.7L587.9 423.8L591.4 427.4M609.5 436.6L605.8 422.7M604.4 428.0L605.8 422.7L609.6 426.6M627.7 436.6L624.9 422.5M623.1 427.7L624.9 422.5L628.5 426.6M645.9 436.6L641.5 421.6M640.1 427.4L641.5 421.6L645.8 425.7M664.0 436.6L658.3 420.8M657.2 427.1L658.3 420.8L663.2 424.9M682.2 436.6L676.6 419.5M675.2 426.2L676.6 419.5L681.7 424.1M700.4 436.6L691.9 419.0M691.4 426.4L691.9 419.0L698.0 423.2M718.6 436.6L706.3 419.0M707.0 427.1L706.3 419.0L713.7 422.4M736.8 436.6L733.7 415.3M730.7 422.9L733.7 415.3L738.8 421.7M755.0 436.6L743.8 420.7M744.5 428.1L743.8 420.7L750.5 423.8M773.1 436.6L783.3 426.4M778.0 427.8L783.3 426.4L781.9 431.7M791.3 436.6L798.8 423.7M793.9 426.5L798.8 423.7L798.8 429.4M336.8 454.8L346.4 454.8M343.2 453.0L346.4 454.8L343.2 456.6M355.0 454.8L364.2 457.3M361.6 454.7L364.2 457.3L360.7 458.2M373.1 454.8L380.4 459.0M378.8 456.2L380.4 459.0L377.2 459.0M391.3 454.8L397.8 457.8M396.3 455.6L397.8 457.8L395.1 458.1M409.5 454.8L415.3 456.3M413.5 454.6L415.3 456.3L412.9 457.0M427.7 454.8L433.7 454.8M431.5 453.5L433.7 454.8L431.5 456.0M445.9 454.8L450.4 453.1M447.9 452.7L450.4 453.1L448.8 455.1M464.0 454.8L467.9 450.2M465.6 451.0L467.9 450.2L467.5 452.6M482.2 454.8L483.9 450.3M482.0 451.9L483.9 450.3L484.3 452.7M500.4 454.8L499.4 448.9M498.5 451.2L499.4 448.9L501.0 450.8M518.6 454.8L517.0 449.0M516.4 451.4L517.0 449.0L518.8 450.8M536.8 454.8L536.0 447.6M534.9 450.1L536.0 447.6L537.6 449.8M555.0 454.8L552.4 446.8M551.7 449.9L552.4 446.8L554.7 448.9M573.1 454.8L570.9 445.4M569.9 448.9L570.9 445.4L573.4 448.1M591.3 454.8L588.0 444.5M587.1 448.5L588.0 444.5L591.0 447.3M609.5 454.8L605.0 442.4M604.1 447.3L605.0 442.4L608.8 445.6M627.7 454.8L623.7 442.2M622.6 447.1L623.7 442.2L627.4 445.6M645.9 454.8L641.1 441.2M640.1 446.6L641.1 441.2L645.3 444.8M664.0 454.8L658.2 440.3M657.4 446.2L658.2 440.3L662.9 444.0M682.2 454.8L676.4 439.0M675.3 445.3L676.4 439.0L681.3 443.1M700.4 454.8L692.3 438.7M691.9 445.6L692.3 438.7L698.0 442.5M718.6 454.8L708.4 438.5M708.7 445.8L708.4 438.5L714.9 441.9M736.8 454.8L728.1 436.2M727.4 444.0L728.1 436.2L734.5 440.7M755.0 454.8L747.1 434.5M745.9 442.7L747.1 434.5L753.5 439.7M773.1 454.8L761.6 436.4M761.9 444.6L761.6 436.4L768.9 440.3M791.3 454.8L794.4 437.1M790.0 442.3L794.4 437.1L796.8 443.5M336.8 473.0L346.9 476.7M344.3 473.5L346.9 476.7L342.9 477.4M355.0 473.0L365.1 476.7M362.5 473.5L365.1 476.7L361.1 477.4M373.1 473.0L382.9 477.5M380.6 474.2L382.9 477.5L378.8 477.9M391.3 473.0L400.3 476.2M398.0 473.5L400.3 476.2L396.7 476.9M409.5 473.0L417.1 476.5M415.3 473.9L417.1 476.5L413.9 476.8M427.7 473.0L434.8 474.2M432.7 472.5L434.8 474.2L432.2 475.1M445.9 473.0L451.1 470.0M448.6 470.0L451.1 470.0L449.8 472.1M464.0 473.0L469.8 471.4M467.4 470.8L469.8 471.4L468.1 473.2M482.2 473.0L486.7 471.3M484.3 470.9L486.7 471.3L485.1 473.2M500.4 473.0L504.8 470.9M502.3 470.7L504.8 470.9L503.3 473.0M518.6 473.0L519.6 467.1M518.0 469.0L519.6 467.1L520.5 469.4M536.8 473.0L537.4 465.8M535.8 468.0L537.4 465.8L538.6 468.3M555.0 473.0L555.0 464.6M553.4 467.3L555.0 464.6L556.6 467.3M573.1 473.0L572.6 464.6M571.2 467.5L572.6 464.6L574.3 467.2M591.3 473.0L589.7 463.5M588.4 466.9L589.7 463.5L592.0 466.3M609.5 473.0L604.9 463.2M604.6 467.3L604.9 463.2L608.3 465.5M627.7 473.0L623.6 461.7M622.8 466.2L623.6 461.7L627.1 464.6M645.9 473.0L641.5 460.5M640.6 465.4L641.5 460.5L645.3 463.8M664.0 473.0L658.7 459.6M657.9 465.0L658.7 459.6L663.0 463.0M682.2 473.0L676.9 458.3M675.8 464.2L676.9 458.3L681.4 462.1M700.4 473.0L693.8 457.5M693.1 463.8L693.8 457.5L698.9 461.3M718.6 473.0L711.2 457.1M710.6 463.7L711.2 457.1L716.6 460.9M736.8 473.0L729.8 456.4M728.9 463.2L729.8 456.4L735.2 460.5M755.0 473.0L747.7 455.7M746.8 462.8L747.7 455.7L753.3 460.0M773.1 473.0L763.2 454.2M762.9 462.3L763.2 454.2L770.0 458.5M791.3 473.0L785.8 452.2M783.6 460.1L785.8 452.2L791.5 458.0M318.6 491.1L324.8 498.5M324.1 494.9L324.8 498.5L321.3 497.3M336.8 491.1L346.1 500.5M344.8 495.6L346.1 500.5L341.3 499.2M355.0 491.1L365.8 498.7M363.6 494.2L365.8 498.7L360.8 498.3M373.1 491.1L384.6 497.7M382.1 493.4L384.6 497.7L379.6 497.7M391.3 491.1L402.2 496.2M399.6 492.5L402.2 496.2L397.7 496.6M409.5 491.1L419.9 493.9M417.0 491.0L419.9 493.9L416.0 495.0M427.7 491.1L437.1 492.8M434.3 490.5L437.1 492.8L433.7 494.0M445.9 491.1L454.2 491.9M451.6 490.0L454.2 491.9L451.3 493.2M464.0 491.1L472.4 490.2M469.5 488.9L472.4 490.2L469.8 492.1M482.2 491.1L489.4 491.1M487.1 489.8L489.4 491.1L487.1 492.5M500.4 491.1L506.0 489.1M503.6 488.7L506.0 489.1L504.4 491.0M518.6 491.1L523.8 488.1M521.3 488.1L523.8 488.1L522.5 490.3M536.8 491.1L538.3 485.3M536.6 487.1L538.3 485.3L539.0 487.8M555.0 491.1L555.5 485.2M554.0 487.2L555.5 485.2L556.5 487.4M573.1 491.1L573.1 483.9M571.8 486.3L573.1 483.9L574.5 486.3M591.3 491.1L588.9 484.4M588.4 487.1L588.9 484.4L591.0 486.1M609.5 491.1L606.0 483.5M605.7 486.7L606.0 483.5L608.6 485.4M627.7 491.1L624.8 482.0M624.0 485.5L624.8 482.0L627.5 484.5M645.9 491.1L642.8 480.8M641.9 484.8L642.8 480.8L645.8 483.6M664.0 491.1L659.9 479.9M659.1 484.4L659.9 479.9L663.4 482.8M682.2 491.1L678.1 478.6M677.1 483.5L678.1 478.6L681.8 481.9M700.4 491.1L695.7 477.5M694.7 482.9L695.7 477.5L699.8 481.1M718.6 491.1L713.3 476.5M712.2 482.3L713.3 476.5L717.8 480.3M736.8 491.1L731.2 475.3M730.0 481.6L731.2 475.3L736.0 479.5M755.0 491.1L749.4 474.3M748.0 480.9L749.4 474.3L754.4 478.8M773.1 491.1L766.9 473.5M765.6 480.5L766.9 473.5L772.3 478.1M791.3 491.1L785.7 472.8M784.1 479.9L785.7 472.8L791.0 477.8M300.4 509.3L305.4 518.1M305.4 514.2L305.4 518.1L302.1 516.1M318.6 509.3L325.2 520.8M325.2 515.7L325.2 520.8L320.8 518.3M336.8 509.3L345.0 521.1M344.6 515.7L345.0 521.1L340.1 518.8M355.0 509.3L365.1 519.5M363.7 514.2L365.1 519.5L359.9 518.1M373.1 509.3L382.5 518.7M381.2 513.8L382.5 518.7L377.6 517.4M391.3 509.3L401.4 517.8M399.7 513.1L401.4 517.8L396.5 516.9M409.5 509.3L420.8 513.4M417.8 509.9L420.8 513.4L416.3 514.2M427.7 509.3L437.8 513.2M435.2 510.0L437.8 513.2L433.7 513.8M445.9 509.3L456.6 510.3M453.3 507.9L456.6 510.3L452.9 512.0M464.0 509.3L473.6 510.2M470.6 508.1L473.6 510.2L470.3 511.8M482.2 509.3L490.6 509.6M487.9 507.9L490.6 509.6L487.8 511.1M500.4 509.3L507.6 508.7M505.1 507.5L507.6 508.7L505.3 510.3M518.6 509.3L524.2 507.3M521.8 506.8L524.2 507.3L522.6 509.2M536.8 509.3L540.9 506.9M538.4 506.9L540.9 506.9L539.7 509.1M555.0 509.3L556.8 506.2M554.6 507.5L556.8 506.2L556.8 508.7M573.1 509.3L574.9 506.2M572.8 507.5L574.9 506.2L574.9 508.7M591.3 509.3L590.5 504.6M589.6 506.9L590.5 504.6L592.1 506.5M609.5 509.3L607.9 503.5M607.3 505.9L607.9 503.5L609.7 505.3M627.7 509.3L625.2 502.6M624.7 505.3L625.2 502.6L627.3 504.3M645.9 509.3L644.5 501.0M643.4 504.0L644.5 501.0L646.5 503.5M664.0 509.3L660.4 499.2M659.6 503.2L660.4 499.2L663.5 501.8M682.2 509.3L678.8 497.8M677.7 502.3L678.8 497.8L682.1 501.0M700.4 509.3L696.5 496.7M695.4 501.6L696.5 496.7L700.2 500.1M718.6 509.3L713.7 495.8M712.7 501.2L713.7 495.8L717.9 499.3M736.8 509.3L732.0 494.5M730.8 500.3L732.0 494.5L736.4 498.5M755.0 509.3L751.4 492.9M749.5 499.0L751.4 492.9L755.7 497.6M773.1 509.3L768.9 491.8M767.0 498.4L768.9 491.8L773.6 496.8M791.3 509.3L786.5 491.2M784.6 498.1L786.5 491.2L791.5 496.3M282.2 527.5L293.0 535.1M290.9 530.5L293.0 535.1L288.0 534.6M300.4 527.5L309.7 538.5M308.7 533.2L309.7 538.5L304.5 536.7M318.6 527.5L326.9 539.3M326.4 533.9L326.9 539.3L321.9 537.0M336.8 527.5L344.0 540.0M344.0 534.5L344.0 540.0L339.2 537.2M355.0 527.5L362.2 540.0M362.2 534.5L362.2 540.0L357.4 537.2M373.1 527.5L381.2 538.0M380.5 533.0L381.2 538.0L376.6 536.1M391.3 527.5L397.9 538.9M397.9 533.9L397.9 538.9L393.6 536.4M409.5 527.5L418.7 535.2M417.1 530.9L418.7 535.2L414.2 534.4M427.7 527.5L437.5 534.4M435.6 530.3L437.5 534.4L433.0 534.0M445.9 527.5L456.0 531.2M453.4 528.1L456.0 531.2L452.0 531.9M464.0 527.5L473.5 529.2M470.7 526.8L473.5 529.2L470.1 530.4M482.2 527.5L491.8 528.3M488.8 526.3L491.8 528.3L488.5 529.9M500.4 527.5L508.8 527.5M506.0 525.9L508.8 527.5L506.0 529.1M518.6 527.5L524.6 527.0M522.3 525.9L524.6 527.0L522.5 528.4M536.8 527.5L541.6 527.5M539.4 526.3L541.6 527.5L539.4 528.8M555.0 527.5L558.5 527.8M556.5 526.4L558.5 527.8L556.3 528.9M573.1 527.5l2.4 -0.4M591.3 527.5l2.1 -1.2M609.5 527.5L611.8 524.8M609.5 525.6L611.8 524.8L611.4 527.2M627.7 527.5L628.9 524.1M627.0 525.7L628.9 524.1L629.3 526.6M645.9 527.5L645.9 521.5M644.6 523.7L645.9 521.5L647.1 523.7M664.0 527.5L661.2 519.6M660.6 522.8L661.2 519.6L663.6 521.7M682.2 527.5L678.9 517.2M678.0 521.3L678.9 517.2L681.9 520.0M700.4 527.5L697.5 515.9M696.2 520.3L697.5 515.9L700.7 519.1M718.6 527.5L715.1 516.0M714.1 520.5L715.1 516.0L718.4 519.1M736.8 527.5L733.7 514.7M732.3 519.5L733.7 514.7L737.1 518.3M755.0 527.5L753.4 513.2M751.2 518.2L753.4 513.2L756.6 517.6M773.1 527.5L770.8 512.1M768.6 517.6L770.8 512.1L774.5 516.7M791.3 527.5L788.4 511.0M786.2 517.0L788.4 511.0L792.5 515.9M264.0 545.7L277.6 550.6M274.1 546.4L277.6 550.6L272.2 551.6M282.2 545.7L296.8 554.1M293.6 548.6L296.8 554.1L290.4 554.1M300.4 545.7L312.3 557.6M310.6 551.4L312.3 557.6L306.1 555.9M318.6 545.7L327.5 558.5M327.0 552.6L327.5 558.5L322.2 556.0M336.8 545.7L344.0 558.2M344.0 552.7L344.0 558.2L339.2 555.4M355.0 545.7L361.3 557.3M361.4 552.2L361.3 557.3L357.0 554.7M373.1 545.7L378.9 556.2M379.0 551.7L378.9 556.2L375.0 553.8M391.3 545.7L396.4 556.6M396.8 552.0L396.4 556.6L392.7 554.0M409.5 545.7L417.2 554.9M416.4 550.4L417.2 554.9L412.9 553.3M427.7 545.7L435.4 554.9M434.6 550.4L435.4 554.9L431.1 553.3M445.9 545.7L454.7 551.9M453.0 548.2L454.7 551.9L450.6 551.5M464.0 545.7L472.7 549.7M470.7 546.8L472.7 549.7L469.1 550.1M482.2 545.7L491.5 548.2M488.9 545.6L491.5 548.2L488.0 549.1M500.4 545.7L508.8 546.4M506.2 544.6L508.8 546.4L505.9 547.8M518.6 545.7L525.7 546.9M523.6 545.2L525.7 546.9L523.1 547.9M536.8 545.7L542.8 545.5M540.6 544.3L542.8 545.5L540.7 546.8M555.0 545.7L559.8 545.7M557.6 544.4L559.8 545.7L557.6 546.9M573.1 545.7L577.8 544.4M575.3 543.8L577.8 544.4L576.0 546.2M591.3 545.7L594.9 545.1M592.5 544.2L594.9 545.1L592.9 546.7M609.5 545.7L612.6 543.9M610.1 543.9L612.6 543.9L611.4 546.1M627.7 545.7L630.2 543.1M627.8 543.8L630.2 543.1L629.6 545.6M645.9 545.7L648.3 541.5M646.1 542.8L648.3 541.5L648.3 544.0M664.0 545.7L663.4 538.5M662.3 541.0L663.4 538.5L665.0 540.8M682.2 545.7L680.8 537.4M679.7 540.4L680.8 537.4L682.8 539.9M700.4 545.7L699.1 536.2M697.7 539.6L699.1 536.2L701.4 539.1M718.6 545.7L716.7 535.1M715.3 538.9L716.7 535.1L719.4 538.2M736.8 545.7L736.1 534.9M734.3 538.6L736.1 534.9L738.4 538.3M755.0 545.7L755.5 533.7M753.0 537.5L755.5 533.7L757.6 537.8M773.1 545.7L772.8 532.5M770.4 536.9L772.8 532.5L775.4 536.8M791.3 545.7L790.2 532.5M788.0 537.1L790.2 532.5L793.0 536.7M245.9 563.9L261.2 566.6M256.7 562.8L261.2 566.6L255.7 568.6M264.0 563.9L279.8 569.6M275.7 564.7L279.8 569.6L273.5 570.7M282.2 563.9L297.8 572.9M294.4 566.9L297.8 572.9L291.0 572.9M300.4 563.9L312.0 577.7M310.8 570.9L312.0 577.7L305.6 575.3M318.6 563.9L327.0 578.4M327.0 572.0L327.0 578.4L321.5 575.2M336.8 563.9L344.3 577.5M344.4 571.6L344.3 577.5L339.2 574.5M355.0 563.9L359.5 576.3M360.3 571.3L359.5 576.3L355.6 573.1M373.1 563.9L377.7 575.0M378.3 570.5L377.7 575.0L374.1 572.2M391.3 563.9L395.0 574.0M395.7 570.0L395.0 574.0L391.9 571.4M409.5 563.9L414.9 573.2M414.9 569.1L414.9 573.2L411.3 571.2M427.7 563.9L433.2 571.7M432.9 568.1L433.2 571.7L429.9 570.2M445.9 563.9L451.3 570.3M450.7 567.2L451.3 570.3L448.3 569.2M464.0 563.9L469.1 569.0M468.4 566.3L469.1 569.0L466.5 568.3M482.2 563.9L487.4 566.9M486.2 564.7L487.4 566.9L484.9 566.9M500.4 563.9L506.3 564.9M504.4 563.3L506.3 564.9L504.0 565.8M518.6 563.9L524.6 563.9M522.4 562.6L524.6 563.9L522.4 565.1M536.8 563.9L542.6 562.4M540.2 561.7L542.6 562.4L540.8 564.2M555.0 563.9L560.9 563.3M558.7 562.3L560.9 563.3L558.9 564.8M573.1 563.9L578.8 561.8M576.3 561.4L578.8 561.8L577.2 563.7M591.3 563.9L595.8 562.2M593.4 561.8L595.8 562.2L594.2 564.1M609.5 563.9L613.7 561.5M611.2 561.5L613.7 561.5L612.4 563.6M627.7 563.9L631.8 561.5M629.3 561.5L631.8 561.5L630.6 563.6M645.9 563.9L649.5 560.8M647.1 561.2L649.5 560.8L648.7 563.1M664.0 563.9L666.4 559.7M664.3 561.0L666.4 559.7L666.4 562.2M682.2 563.9L683.3 558.0M681.7 559.9L683.3 558.0L684.1 560.3M700.4 563.9L699.4 558.0M698.5 560.3L699.4 558.0L701.0 559.9M718.6 563.9L717.3 556.8M716.4 559.4L717.3 556.8L719.1 558.9M736.8 563.9L737.5 555.5M735.7 558.1L737.5 555.5L738.9 558.4M755.0 563.9L757.0 553.3M754.3 556.4L757.0 553.3L758.3 557.1M773.1 563.9L775.4 552.1M772.4 555.5L775.4 552.1L776.9 556.4M791.3 563.9L793.4 552.1M790.5 555.5L793.4 552.1L795.0 556.3M209.5 582.1L227.0 583.6M221.5 579.8L227.0 583.6L220.9 586.4M227.7 582.1L245.0 584.7M239.8 580.5L245.0 584.7L238.8 587.1M245.9 582.1L263.6 585.2M258.4 580.8L263.6 585.2L257.2 587.5M264.0 582.1L281.7 588.3M277.1 582.9L281.7 588.3L274.7 589.6M282.2 582.1L300.3 590.5M295.9 584.3L300.3 590.5L292.7 591.1M300.4 582.1L315.1 594.8M312.7 587.8L315.1 594.8L307.9 593.4M318.6 582.1L328.9 596.8M328.3 590.0L328.9 596.8L322.7 593.9M336.8 582.1L344.9 596.7M345.0 590.4L344.9 596.7L339.4 593.5M355.0 582.1L359.9 595.6M360.8 590.2L359.9 595.6L355.7 592.1M373.1 582.1L377.0 593.4M377.9 588.9L377.0 593.4L373.6 590.4M391.3 582.1L394.1 592.5M395.2 588.5L394.1 592.5L391.2 589.6M409.5 582.1L412.8 591.1M413.4 587.5L412.8 591.1L410.0 588.7M427.7 582.1L427.7 590.5M429.3 587.7L427.7 590.5L426.1 587.7M445.9 582.1L444.6 589.1M446.4 587.0L444.6 589.1L443.7 586.6M464.0 582.1L464.0 586.9M465.3 584.7L464.0 586.9L462.8 584.7M482.2 582.1l-1.2 -2.1M500.4 582.1l0.0 -1.2M518.6 582.1l0.6 -2.3M536.8 582.1L537.9 578.6M536.0 580.3L537.9 578.6L538.4 581.1M555.0 582.1L556.2 577.4M554.4 579.2L556.2 577.4L556.8 579.8M573.1 582.1L575.6 577.9M573.4 579.1L575.6 577.9L575.5 580.4M591.3 582.1L592.6 577.4M590.8 579.2L592.6 577.4L593.2 579.8M609.5 582.1L611.9 577.9M609.7 579.1L611.9 577.9L611.9 580.4M627.7 582.1L631.4 579.0M628.9 579.4L631.4 579.0L630.5 581.3M645.9 582.1L650.0 579.7M647.5 579.7L650.0 579.7L648.8 581.8M664.0 582.1L667.6 582.1M665.5 580.8L667.6 582.1L665.5 583.3M682.2 582.1l1.2 -2.1M700.4 582.1l0.0 -2.4M718.6 582.1l-1.2 -2.1M736.8 582.1L738.8 576.4M736.9 578.0L738.8 576.4L739.3 578.9M755.0 582.1L757.4 572.8M754.9 575.4L757.4 572.8L758.4 576.3M773.1 582.1L776.9 571.9M773.7 574.5L776.9 571.9L777.6 576.0M791.3 582.1L795.4 570.8M791.9 573.7L795.4 570.8L796.2 575.3M136.8 600.2L156.1 598.5M149.4 595.4L156.1 598.5L150.1 602.8M155.0 600.2L174.4 601.9M168.3 597.7L174.4 601.9L167.7 605.1M173.1 600.2L192.6 603.0M186.7 598.4L192.6 603.0L185.7 605.8M191.3 600.2L211.1 603.7M205.3 598.8L211.1 603.7L203.9 606.3M209.5 600.2L229.8 602.0M223.5 597.6L229.8 602.0L222.8 605.3M227.7 600.2L248.0 603.2M241.9 598.4L248.0 603.2L240.7 606.1M245.9 600.2L266.1 603.8M260.1 598.8L266.1 603.8L258.7 606.5M264.0 600.2L283.6 606.4M278.3 600.7L283.6 606.4L276.0 608.1M282.2 600.2L301.4 607.2M296.4 601.3L301.4 607.2L293.8 608.6M300.4 600.2L316.8 611.7M313.6 604.8L316.8 611.7L309.2 611.0M318.6 600.2L330.6 614.6M329.4 607.6L330.6 614.6L323.9 612.1M336.8 600.2L345.6 615.4M345.6 608.7L345.6 615.4L339.8 612.1M355.0 600.2L360.3 614.9M361.3 609.1L360.3 614.9L355.7 611.1M373.1 600.2L377.0 612.9M378.1 608.0L377.0 612.9L373.3 609.4M391.3 600.2L394.1 610.7M395.2 606.7L394.1 610.7L391.2 607.8M409.5 600.2L409.5 609.8M411.3 606.7L409.5 609.8L407.7 606.7M427.7 600.2L427.7 608.6M429.3 605.9L427.7 608.6L426.1 605.9M445.9 600.2L444.3 606.0M446.1 604.3L444.3 606.0L443.7 603.6M464.0 600.2L462.4 604.7M464.3 603.1L462.4 604.7L462.0 602.3M482.2 600.2l-1.8 1.5M500.4 600.2l-2.3 0.8M518.6 600.2L516.3 597.5M516.7 599.9L516.3 597.5L518.6 598.3M536.8 600.2L534.3 596.1M534.3 598.6L534.3 596.1L536.5 597.3M555.0 600.2L552.9 595.9M552.7 598.4L552.9 595.9L555.0 597.3M573.1 600.2L571.2 594.6M570.7 597.0L571.2 594.6L573.1 596.2M591.3 600.2L589.3 594.6M588.8 597.1L589.3 594.6L591.2 596.2M609.5 600.2L609.5 594.2M608.2 596.4L609.5 594.2L610.8 596.4M627.7 600.2L629.2 594.4M627.5 596.2L629.2 594.4L629.9 596.9M645.9 600.2L648.3 596.1M646.1 597.3L648.3 596.1L648.3 598.6M664.0 600.2L667.4 599.0M665.0 598.6L667.4 599.0L665.8 600.9M682.2 600.2l2.4 -0.0M700.4 600.2l0.0 -1.2M718.6 600.2l-1.7 0.0M736.8 600.2L739.2 596.1M737.0 597.3L739.2 596.1L739.2 598.6M755.0 600.2L760.4 593.8M757.4 594.9L760.4 593.8L759.8 596.9M773.1 600.2L779.1 591.2M775.4 593.1L779.1 591.2L778.8 595.3M791.3 600.2L796.7 590.9M793.2 592.9L796.7 590.9L796.7 595.0M27.7 618.4L37.6 601.2M31.1 605.0L37.6 601.2L37.6 608.7M45.9 618.4L55.7 601.2M49.2 605.0L55.7 601.2L55.7 608.8M64.0 618.4L76.2 602.9M69.2 605.7L76.2 602.9L75.1 610.3M82.2 618.4L94.9 603.3M87.9 605.9L94.9 603.3L93.6 610.7M100.4 618.4L113.6 603.8M106.5 606.1L113.6 603.8L112.1 611.1M118.6 618.4L132.7 604.3M125.4 606.3L132.7 604.3L130.7 611.7M136.8 618.4L154.3 608.3M146.6 608.3L154.3 608.3L150.4 615.0M155.0 618.4L175.1 616.7M168.1 613.4L175.1 616.7L168.8 621.1M173.1 618.4L193.3 620.2M187.0 615.8L193.3 620.2L186.3 623.4M191.3 618.4L211.7 622.0M205.7 617.0L211.7 622.0L204.3 624.7M209.5 618.4L230.4 620.2M223.9 615.7L230.4 620.2L223.2 623.6M227.7 618.4L248.4 621.8M242.2 616.8L248.4 621.8L240.9 624.6M245.9 618.4L266.4 622.0M260.4 616.9L266.4 622.0L259.0 624.8M264.0 618.4L283.9 624.9M278.6 619.0L283.9 624.9L276.1 626.6M282.2 618.4L301.7 625.5M296.6 619.5L301.7 625.5L293.9 626.9M300.4 618.4L317.0 630.0M313.7 623.0L317.0 630.0L309.3 629.3M318.6 618.4L329.6 634.1M329.0 626.9L329.6 634.1L323.0 631.1M336.8 618.4L345.1 633.8M345.3 627.2L345.1 633.8L339.4 630.3M355.0 618.4L360.3 633.1M361.3 627.2L360.3 633.1L355.7 629.3M373.1 618.4L376.4 631.2M377.8 626.4L376.4 631.2L372.9 627.6M391.3 618.4L393.2 629.1M394.6 625.2L393.2 629.1L390.6 625.9M409.5 618.4L409.1 629.2M411.3 625.7L409.1 629.2L407.2 625.6M427.7 618.4L426.8 628.0M428.9 625.0L426.8 628.0L425.3 624.7M445.9 618.4L444.0 625.4M445.9 623.4L444.0 625.4L443.3 622.7M464.0 618.4L461.5 623.9M463.6 622.4L461.5 623.9L461.3 621.4M482.2 618.4L478.3 621.2M480.8 621.0L478.3 621.2L479.4 618.9M500.4 618.4L495.9 620.1M498.4 620.5L495.9 620.1L497.5 618.1M518.6 618.4L514.4 616.0M515.7 618.2L514.4 616.0L516.9 616.0M536.8 618.4L534.5 615.7M534.9 618.1L534.5 615.7L536.8 616.5M555.0 618.4L552.0 614.6M552.3 617.1L552.0 614.6L554.3 615.6M573.1 618.4L570.4 614.5M570.6 617.0L570.4 614.5L572.6 615.5M591.3 618.4L587.5 613.8M587.9 616.3L587.5 613.8L589.8 614.7M609.5 618.4L609.0 612.4M607.9 614.7L609.0 612.4L610.4 614.5M627.7 618.4L628.2 612.4M626.8 614.5L628.2 612.4L629.3 614.7M645.9 618.4L647.4 612.6M645.6 614.4L647.4 612.6L648.1 615.0M664.0 618.4L665.7 613.9M663.8 615.5L665.7 613.9L666.1 616.4M682.2 618.4L684.8 615.9M682.4 616.5L684.8 615.9L684.1 618.3M700.4 618.4L703.5 616.6M701.0 616.6L703.5 616.6L702.3 618.8M718.6 618.4L721.9 616.9M719.4 616.7L721.9 616.9L720.4 618.9M736.8 618.4L741.7 615.0M739.2 615.2L741.7 615.0L740.6 617.2M755.0 618.4L760.9 612.5M757.8 613.3L760.9 612.5L760.1 615.6M773.1 618.4L780.6 610.6M776.7 611.8L780.6 610.6L779.6 614.6M791.3 618.4L798.3 610.1M794.4 611.5L798.3 610.1L797.5 614.2M9.5 636.6L17.8 616.0M11.2 621.2L17.8 616.0L19.0 624.4M27.7 636.6L36.8 617.1M30.1 621.8L36.8 617.1L37.5 625.3M45.9 636.6L55.4 617.9M48.7 622.2L55.4 617.9L55.8 625.8M64.0 636.6L75.3 619.5M68.4 623.0L75.3 619.5L74.9 627.3M82.2 636.6L92.8 619.7M86.1 623.3L92.8 619.7L92.5 627.3M100.4 636.6L111.3 621.4M104.8 624.3L111.3 621.4L110.6 628.4M118.6 636.6L128.9 620.1M122.4 623.6L128.9 620.1L128.6 627.5M136.8 636.6L152.2 623.1M144.5 624.6L152.2 623.1L149.7 630.4M155.0 636.6L167.6 620.4M160.4 623.4L167.6 620.4L166.5 628.2M173.1 636.6L190.5 626.6M182.9 626.6L190.5 626.6L186.7 633.2M191.3 636.6L211.5 640.2M205.5 635.2L211.5 640.2L204.2 642.8M209.5 636.6L229.5 642.0M223.9 636.4L229.5 642.0L221.9 644.0M227.7 636.6L248.2 641.7M242.5 636.1L248.2 641.7L240.5 644.0M245.9 636.6L266.1 642.8M260.6 636.9L266.1 642.8L258.3 644.6M264.0 636.6L283.6 644.8M278.7 638.4L283.6 644.8L275.6 645.8M282.2 636.6L301.4 645.6M296.8 639.0L301.4 645.6L293.4 646.3M300.4 636.6L316.3 649.9M313.6 642.5L316.3 649.9L308.5 648.5M318.6 636.6L328.3 653.4M328.3 646.0L328.3 653.4L321.9 649.7M336.8 636.6L344.1 653.0M344.8 646.2L344.1 653.0L338.6 649.0M355.0 636.6L358.7 650.5M360.1 645.2L358.7 650.5L354.8 646.6M373.1 636.6L375.3 648.4M376.8 644.1L375.3 648.4L372.3 644.9M391.3 636.6L392.3 647.4M394.0 643.6L392.3 647.4L389.9 644.0M409.5 636.6L409.5 646.2M411.3 643.0L409.5 646.2L407.7 643.0M427.7 636.6L426.9 645.0M428.8 642.4L426.9 645.0L425.6 642.1M445.9 636.6L444.0 643.6M445.9 641.6L444.0 643.6L443.3 640.9M464.0 636.6L461.0 641.8M463.2 640.5L461.0 641.8L461.0 639.3M482.2 636.6L478.4 641.2M480.7 640.3L478.4 641.2L478.8 638.7M500.4 636.6L496.5 639.4M499.0 639.1L496.5 639.4L497.5 637.1M518.6 636.6L515.2 637.8M517.7 638.3L515.2 637.8L516.8 635.9M536.8 636.6L533.4 635.4M535.0 637.3L533.4 635.4L535.9 634.9M555.0 636.6L552.2 634.3M553.1 636.6L552.2 634.3L554.7 634.7M573.1 636.6L570.1 632.9M570.5 635.4L570.1 632.9L572.4 633.8M591.3 636.6L588.3 631.4M588.3 633.9L588.3 631.4L590.5 632.7M609.5 636.6L607.9 630.8M607.3 633.2L607.9 630.8L609.7 632.6M627.7 636.6L626.4 629.5M625.5 632.1L626.4 629.5L628.2 631.6M645.9 636.6L645.9 629.4M644.5 631.8L645.9 629.4L647.2 631.8M664.0 636.6L665.1 630.7M663.5 632.6L665.1 630.7L665.9 633.0M682.2 636.6L685.2 631.4M683.1 632.7L685.2 631.4L685.2 633.9M700.4 636.6L705.3 633.2M702.8 633.4L705.3 633.2L704.3 635.4M718.6 636.6L723.5 633.2M721.0 633.4L723.5 633.2L722.4 635.4M736.8 636.6L743.3 633.6M740.6 633.3L743.3 633.6L741.7 635.8M755.0 636.6L762.6 633.1M759.4 632.8L762.6 633.1L760.7 635.7M773.1 636.6L781.2 631.4M777.5 631.6L781.2 631.4L779.5 634.6M791.3 636.6L800.7 631.2M796.6 631.2L800.7 631.2L798.6 634.8M9.5 654.8L18.3 633.9M11.5 639.1L18.3 633.9L19.4 642.4M27.7 654.8L36.8 635.1M30.1 639.8L36.8 635.1L37.5 643.3M45.9 654.8L55.4 636.1M48.7 640.4L55.4 636.1L55.8 644.0M64.0 654.8L75.0 637.6M68.1 641.2L75.0 637.6L74.7 645.3M82.2 654.8L92.9 638.2M86.2 641.6L92.9 638.2L92.5 645.7M100.4 654.8L110.9 640.1M104.6 643.0L110.9 640.1L110.2 646.9M118.6 654.8L129.7 639.5M123.2 642.4L129.7 639.5L129.0 646.6M136.8 654.8L149.6 639.0M142.4 641.8L149.6 639.0L148.4 646.7M155.0 654.8L170.2 641.1M162.6 642.7L170.2 641.1L167.8 648.5M173.1 654.8L190.9 645.6M183.3 645.2L190.9 645.6L186.8 652.0M191.3 654.8L209.9 649.8M202.8 647.9L209.9 649.8L204.7 655.0M209.5 654.8L229.1 656.5M223.0 652.2L229.1 656.5L222.3 659.7M227.7 654.8L247.2 661.1M242.0 655.3L247.2 661.1L239.6 662.7M245.9 654.8L265.2 662.2M260.2 656.1L265.2 662.2L257.4 663.4M264.0 654.8L282.8 663.5M278.3 657.1L282.8 663.5L275.0 664.2M282.2 654.8L299.1 666.8M295.8 659.7L299.1 666.8L291.2 666.1M300.4 654.8L314.7 669.1M312.7 661.7L314.7 669.1L307.3 667.1M318.6 654.8L326.5 671.7M327.1 664.7L326.5 671.7L320.7 667.7M336.8 654.8L341.9 669.5M343.0 663.7L341.9 669.5L337.4 665.6M355.0 654.8L357.2 667.8M359.0 663.1L357.2 667.8L354.0 663.9M373.1 654.8L374.4 665.5M376.0 661.7L374.4 665.5L371.9 662.2M391.3 654.8L391.7 664.4M393.4 661.2L391.7 664.4L389.7 661.3M409.5 654.8L409.5 663.2M411.1 660.4L409.5 663.2L407.9 660.4M427.7 654.8L426.9 661.9M428.5 659.7L426.9 661.9L425.8 659.4M445.9 654.8L444.2 660.5M446.0 658.8L444.2 660.5L443.6 658.1M464.0 654.8L461.9 659.1M464.0 657.7L461.9 659.1L461.7 656.6M482.2 654.8L479.0 658.3M481.4 657.6L479.0 658.3L479.5 655.9M500.4 654.8L496.3 657.2M498.8 657.2L496.3 657.2L497.5 655.0M518.6 654.8L515.0 655.3M517.4 656.2L515.0 655.3L517.0 653.8M536.8 654.8L533.4 653.7M535.0 655.5L533.4 653.7L535.8 653.1M555.0 654.8L551.3 651.6M552.1 654.0L551.3 651.6L553.8 652.1M573.1 654.8L570.4 650.8M570.6 653.3L570.4 650.8L572.7 651.9M591.3 654.8L588.7 649.4M588.5 651.9L588.7 649.4L590.8 650.8M609.5 654.8L607.0 649.3M606.7 651.8L607.0 649.3L609.0 650.8M627.7 654.8L625.8 647.8M625.1 650.5L625.8 647.8L627.8 649.8M645.9 654.8L645.9 647.6M644.5 650.0L645.9 647.6L647.2 650.0M664.0 654.8L664.7 647.6M663.1 649.9L664.7 647.6L665.8 650.1M682.2 654.8L685.8 647.2M683.2 649.0L685.8 647.2L686.1 650.3M700.4 654.8L704.6 647.5M701.8 649.1L704.6 647.5L704.6 650.7M718.6 654.8L724.5 648.8M721.4 649.7L724.5 648.8L723.7 651.9M736.8 654.8L743.7 650.0M740.5 650.2L743.7 650.0L742.3 652.9M755.0 654.8L762.2 650.6M759.0 650.6L762.2 650.6L760.6 653.3M773.1 654.8L781.3 649.7M777.6 649.8L781.3 649.7L779.6 652.9M791.3 654.8L801.1 650.2M797.0 649.9L801.1 650.2L798.8 653.6M9.5 673.0L18.1 651.7M11.2 657.1L18.1 651.7L19.3 660.3M27.7 673.0L37.1 652.8M30.2 657.7L37.1 652.8L37.8 661.2M45.9 673.0L55.3 653.7M48.5 658.3L55.3 653.7L55.8 661.9M64.0 673.0L74.9 655.6M68.1 659.2L74.9 655.6L74.7 663.4M82.2 673.0L92.7 656.3M86.1 659.8L92.7 656.3L92.4 663.7M100.4 673.0L110.4 658.0M104.3 661.0L110.4 658.0L109.9 664.8M118.6 673.0L129.3 657.6M122.8 660.6L129.3 657.6L128.7 664.7M136.8 673.0L147.5 655.8M140.7 659.4L147.5 655.8L147.2 663.5M155.0 673.0L168.3 657.5M160.9 660.1L168.3 657.5L166.8 665.1M173.1 673.0L185.9 657.7M178.8 660.3L185.9 657.7L184.6 665.2M191.3 673.0L206.7 662.2M199.6 662.8L206.7 662.2L203.6 668.7M209.5 673.0L225.7 668.6M219.6 667.0L225.7 668.6L221.2 673.1M227.7 673.0L245.3 679.4M240.7 673.9L245.3 679.4L238.3 680.6M245.9 673.0L262.8 682.6M259.1 676.2L262.8 682.6L255.4 682.7M264.0 673.0L280.2 684.3M277.0 677.5L280.2 684.3L272.7 683.6M282.2 673.0L294.9 688.1M293.6 680.7L294.9 688.1L287.9 685.5M300.4 673.0L311.5 688.9M310.9 681.5L311.5 688.9L304.9 685.7M318.6 673.0L324.3 688.8M325.4 682.5L324.3 688.8L319.4 684.6M336.8 673.0L340.1 685.7M341.5 680.9L340.1 685.7L336.6 682.2M355.0 673.0L356.0 684.9M357.9 680.8L356.0 684.9L353.4 681.2M373.1 673.0L373.8 683.7M375.6 680.1L373.8 683.7L371.5 680.3M391.3 673.0L391.3 682.6M393.1 679.4L391.3 682.6L389.5 679.4M409.5 673.0L409.5 681.4M411.1 678.6L409.5 681.4L407.9 678.6M427.7 673.0L427.1 680.1M428.6 677.9L427.1 680.1L425.9 677.7M445.9 673.0L443.8 678.6M445.7 677.0L443.8 678.6L443.4 676.1M464.0 673.0L462.8 676.3M464.7 674.7L462.8 676.3L462.4 673.9M482.2 673.0L479.7 675.5M482.1 674.9L479.7 675.5L480.3 673.1M500.4 673.0L497.3 674.8M499.8 674.8L497.3 674.8L498.5 672.6M518.6 673.0L515.0 673.3M517.3 674.3L515.0 673.3L517.1 671.8M536.8 673.0L533.3 672.0M535.1 673.8L533.3 672.0L535.7 671.4M555.0 673.0L551.6 669.6M552.2 672.0L551.6 669.6L554.0 670.2M573.1 673.0L570.7 668.8M570.7 671.3L570.7 668.8L572.9 670.1M591.3 673.0L588.8 667.5M588.6 670.0L588.8 667.5L590.8 669.0M609.5 673.0L607.4 667.3M607.0 669.8L607.4 667.3L609.4 668.9M627.7 673.0L626.6 667.1M625.8 669.4L626.6 667.1L628.2 669.0M645.9 673.0L645.9 665.8M644.5 668.1L645.9 665.8L647.2 668.1M664.0 673.0L663.3 664.6M662.0 667.5L663.3 664.6L665.1 667.2M682.2 673.0L684.7 663.7M682.1 666.3L684.7 663.7L685.7 667.2M700.4 673.0L704.1 662.8M701.0 665.5L704.1 662.8L704.8 666.9M718.6 673.0L723.2 663.2M719.8 665.5L723.2 663.2L723.5 667.3M736.8 673.0L743.0 664.1M739.2 665.9L743.0 664.1L742.6 668.2M755.0 673.0L761.7 666.2M758.2 667.1L761.7 666.2L760.8 669.7M773.1 673.0L780.6 666.9M777.0 667.5L780.6 666.9L779.3 670.3M791.3 673.0L799.6 668.2M796.0 668.2L799.6 668.2L797.8 671.3M9.5 691.1L19.3 670.7M12.2 675.6L19.3 670.7L20.0 679.3M27.7 691.1L37.8 671.4M30.7 676.0L37.8 671.4L38.2 679.8M45.9 691.1L56.2 672.3M49.2 676.5L56.2 672.3L56.4 680.5M64.0 691.1L75.4 673.8M68.4 677.4L75.4 673.8L75.0 681.7M82.2 691.1L93.4 674.5M86.5 677.9L93.4 674.5L92.9 682.1M100.4 691.1L111.3 675.9M104.8 678.9L111.3 675.9L110.6 683.0M118.6 691.1L130.1 676.4M123.5 679.1L130.1 676.4L129.1 683.4M136.8 691.1L148.8 675.1M141.8 678.1L148.8 675.1L147.9 682.7M155.0 691.1L169.1 676.7M161.7 678.8L169.1 676.7L167.2 684.2M173.1 691.1L188.5 678.8M181.1 679.9L188.5 678.8L185.8 685.8M191.3 691.1L208.1 682.9M201.0 682.4L208.1 682.9L204.2 688.8M209.5 691.1L224.2 685.8M218.3 684.8L224.2 685.8L220.3 690.4M227.7 691.1L243.0 693.9M238.5 690.0L243.0 693.9L237.5 695.9M245.9 691.1L258.7 701.9M256.5 695.9L258.7 701.9L252.4 700.8M264.0 691.1L274.1 705.5M273.5 698.9L274.1 705.5L268.1 702.7M282.2 691.1L289.6 707.0M290.2 700.4L289.6 707.0L284.2 703.2M300.4 691.1L306.8 706.7M307.6 700.4L306.8 706.7L301.7 702.8M318.6 691.1L321.1 705.3M323.0 700.2L321.1 705.3L317.6 701.1M336.8 691.1L339.3 704.1M341.0 699.3L339.3 704.1L336.0 700.3M355.0 691.1L356.3 703.1M358.1 698.9L356.3 703.1L353.6 699.4M373.1 691.1L373.4 701.9M375.4 698.3L373.4 701.9L371.3 698.4M391.3 691.1L391.3 700.7M393.1 697.6L391.3 700.7L389.5 697.6M409.5 691.1L409.4 699.5M411.0 696.8L409.4 699.5L407.9 696.8M427.7 691.1L427.2 698.3M428.7 696.1L427.2 698.3L426.0 695.9M445.9 691.1L445.0 695.9M446.6 694.0L445.0 695.9L444.2 693.5M464.0 691.1L463.0 694.6M464.8 692.9L463.0 694.6L462.4 692.2M482.2 691.1L480.2 694.1M482.5 693.0L480.2 694.1L480.4 691.6M500.4 691.1l-2.0 1.3M518.6 691.1l-2.4 0.1M536.8 691.1L533.5 689.8M535.0 691.7L533.5 689.8L535.9 689.4M555.0 691.1L552.5 688.6M553.1 691.0L552.5 688.6L554.9 689.2M573.1 691.1L570.9 686.9M570.8 689.4L570.9 686.9L573.0 688.2M591.3 691.1L590.1 686.5M589.4 688.9L590.1 686.5L591.8 688.3M609.5 691.1L608.7 686.4M607.8 688.8L608.7 686.4L610.3 688.3M627.7 691.1L627.3 685.2M626.2 687.4L627.3 685.2L628.7 687.2M645.9 691.1L645.9 683.9M644.5 686.3L645.9 683.9L647.2 686.3M664.0 691.1L665.0 682.8M663.1 685.4L665.0 682.8L666.2 685.7M682.2 691.1L683.9 681.7M681.5 684.5L683.9 681.7L685.1 685.1M700.4 691.1L703.7 680.8M700.6 683.6L703.7 680.8L704.6 684.9M718.6 691.1L721.4 680.7M718.5 683.6L721.4 680.7L722.4 684.7M736.8 691.1L741.8 680.3M738.1 682.9L741.8 680.3L742.2 684.8M755.0 691.1L761.8 681.3M757.7 683.2L761.8 681.3L761.4 685.9M773.1 691.1L780.4 683.1M776.5 684.4L780.4 683.1L779.5 687.1M791.3 691.1L798.7 685.0M795.1 685.6L798.7 685.0L797.4 688.4M9.5 709.3L20.1 689.5M12.8 694.0L20.1 689.5L20.4 698.0M27.7 709.3L38.9 689.8M31.5 694.1L38.9 689.8L38.9 698.4M45.9 709.3L56.9 690.5M49.7 694.6L56.9 690.5L56.9 698.8M64.0 709.3L76.1 692.0M68.8 695.4L76.1 692.0L75.4 700.0M82.2 709.3L94.0 692.5M86.9 695.8L94.0 692.5L93.3 700.3M100.4 709.3L111.9 693.5M105.1 696.6L111.9 693.5L111.1 700.9M118.6 709.3L130.7 694.4M123.8 697.0L130.7 694.4L129.5 701.6M136.8 709.3L148.8 694.0M141.9 696.7L148.8 694.0L147.7 701.3M155.0 709.3L168.4 694.9M161.2 697.1L168.4 694.9L166.7 702.2M173.1 709.3L189.5 699.3M182.2 699.5L189.5 699.3L186.0 705.7M191.3 709.3L206.1 699.0M199.2 699.6L206.1 699.0L203.2 705.2M209.5 709.3L223.0 704.4M217.6 703.5L223.0 704.4L219.5 708.6M227.7 709.3L240.4 712.7M236.9 709.2L240.4 712.7L235.6 714.0M245.9 709.3L254.3 719.4M253.5 714.5L254.3 719.4L249.6 717.7M264.0 709.3L269.0 722.9M269.9 717.5L269.0 722.9L264.8 719.3M282.2 709.3L284.7 723.5M286.6 718.4L284.7 723.5L281.2 719.3M300.4 709.3L303.0 723.5M304.8 718.4L303.0 723.5L299.4 719.3M318.6 709.3L319.1 722.5M321.4 718.1L319.1 722.5L316.4 718.3M336.8 709.3L337.9 722.5M340.0 717.9L337.9 722.5L335.0 718.4M355.0 709.3L356.1 721.3M358.0 717.1L356.1 721.3L353.4 717.6M373.1 709.3L373.3 720.1M375.3 716.5L373.3 720.1L371.2 716.6M391.3 709.3L391.3 718.9M393.1 715.8L391.3 718.9L389.5 715.8M409.5 709.3L409.5 717.7M411.1 715.0L409.5 717.7L407.9 715.0M427.7 709.3L427.7 716.5M429.0 714.2L427.7 716.5L426.3 714.2M445.9 709.3L445.9 714.1M447.1 712.0L445.9 714.1L444.6 712.0M464.0 709.3L463.7 712.9M465.2 710.9L463.7 712.9L462.7 710.6M482.2 709.3l-0.8 2.3M500.4 709.3l-1.8 1.5M518.6 709.3l-2.4 0.0M536.8 709.3l-2.1 -1.2M555.0 709.3L552.6 706.6M553.1 709.0L552.6 706.6L555.0 707.4M573.1 709.3L571.6 706.1M571.4 708.6L571.6 706.1L573.7 707.5M591.3 709.3L590.5 704.6M589.6 706.9L590.5 704.6L592.1 706.5M609.5 709.3L610.7 704.7M609.0 706.5L610.7 704.7L611.4 707.1M627.7 709.3L629.2 703.5M627.4 705.3L629.2 703.5L629.8 705.9M645.9 709.3L648.9 702.8M646.7 704.4L648.9 702.8L649.1 705.5M664.0 709.3L666.9 701.4M664.5 703.5L666.9 701.4L667.5 704.6M682.2 709.3L685.5 700.3M682.7 702.7L685.5 700.3L686.1 703.9M700.4 709.3L703.7 700.3M700.9 702.7L703.7 700.3L704.3 703.9M718.6 709.3L721.4 698.9M718.5 701.8L721.4 698.9L722.4 702.9M736.8 709.3L741.7 698.4M738.0 701.1L741.7 698.4L742.2 702.9M755.0 709.3L760.5 697.4M756.4 700.2L760.5 697.4L761.0 702.4M773.1 709.3L780.7 698.5M776.2 700.6L780.7 698.5L780.3 703.5M791.3 709.3L798.3 701.1M794.4 702.5L798.3 701.1L797.5 705.1M9.5 727.5L20.7 708.6M13.4 712.7L20.7 708.6L20.6 716.9M27.7 727.5L39.5 708.7M32.0 712.6L39.5 708.7L39.2 717.1M45.9 727.5L57.7 709.3M50.3 713.1L57.7 709.3L57.2 717.5M64.0 727.5L76.6 710.4M69.2 713.7L76.6 710.4L75.7 718.4M82.2 727.5L94.6 710.9M87.4 714.0L94.6 710.9L93.7 718.7M100.4 727.5L112.7 711.8M105.7 714.7L112.7 711.8L111.6 719.3M118.6 727.5L131.4 712.9M124.4 715.3L131.4 712.9L129.9 720.2M136.8 727.5L149.4 713.1M142.5 715.4L149.4 713.1L148.0 720.2M155.0 727.5L169.1 715.3M162.2 716.6L169.1 715.3L166.8 722.0M173.1 727.5L186.5 719.5M180.6 719.6L186.5 719.5L183.6 724.7M191.3 727.5L204.6 722.0M199.2 721.3L204.6 722.0L201.3 726.4M209.5 727.5L221.1 724.4M216.7 723.2L221.1 724.4L217.9 727.6M227.7 727.5L237.0 732.9M235.0 729.4L237.0 732.9L232.9 732.9M245.9 727.5L250.9 738.4M251.3 733.8L250.9 738.4L247.2 735.8M264.0 727.5L266.3 740.5M268.1 735.8L266.3 740.5L263.1 736.7M282.2 727.5L285.2 740.4M286.7 735.6L285.2 740.4L281.8 736.7M300.4 727.5L301.5 740.7M303.7 736.1L301.5 740.7L298.7 736.5M318.6 727.5L318.6 740.7M321.1 736.4L318.6 740.7L316.1 736.4M336.8 727.5L337.2 740.7M339.5 736.3L337.2 740.7L334.5 736.4M355.0 727.5L355.6 739.5M357.7 735.4L355.6 739.5L353.1 735.7M373.1 727.5L373.1 738.3M375.2 734.8L373.1 738.3L371.1 734.8M391.3 727.5L391.3 737.6M393.2 734.3L391.3 737.6L389.4 734.3M409.5 727.5L409.5 736.6M411.2 733.6L409.5 736.6L407.7 733.6M427.7 727.5L427.6 735.2M429.1 732.7L427.6 735.2L426.2 732.7M445.9 727.5L445.8 732.8M447.0 730.6L445.8 732.8L444.5 730.6M464.0 727.5L463.7 731.1M465.2 729.1L463.7 731.1L462.7 728.8M482.2 727.5l-1.0 2.2M500.4 727.5l-1.4 0.9M518.6 727.5l-1.7 -0.1M536.8 727.5l-1.8 -1.6M555.0 727.5l-1.1 -2.1M573.1 727.5L572.4 724.0M571.6 726.4L572.4 724.0L574.1 725.8M591.3 727.5L591.6 723.9M590.2 726.0L591.6 723.9L592.7 726.2M609.5 727.5L610.7 722.9M609.0 724.6L610.7 722.9L611.4 725.3M627.7 727.5L629.9 721.9M628.0 723.5L629.9 721.9L630.3 724.4M645.9 727.5L649.5 721.3M647.1 722.6L649.5 721.3L649.5 724.0M664.0 727.5L668.6 719.1M665.5 721.0L668.6 719.1L668.7 722.7M682.2 727.5L687.0 719.2M683.9 721.0L687.0 719.2L687.0 722.8M700.4 727.5L705.0 719.1M701.9 721.0L705.0 719.1L705.1 722.7M718.6 727.5L724.0 718.2M720.4 720.2L724.0 718.2L724.0 722.3M736.8 727.5L742.7 717.1M738.8 719.4L742.7 717.1L742.8 721.7M755.0 727.5L761.6 716.1M757.2 718.6L761.6 716.1L761.6 721.1M773.1 727.5L780.7 716.7M776.1 718.8L780.7 716.7L780.3 721.7M791.3 727.5L799.0 718.3M794.7 719.9L799.0 718.3L798.2 722.8M9.5 745.7L21.0 727.3M13.7 731.2L21.0 727.3L20.7 735.5M27.7 745.7L40.1 727.9M32.7 731.4L40.1 727.9L39.4 736.1M45.9 745.7L58.2 728.1M50.8 731.5L58.2 728.1L57.5 736.2M64.0 745.7L77.0 728.9M69.6 732.0L77.0 728.9L75.9 736.9M82.2 745.7L95.1 729.2M87.7 732.2L95.1 729.2L94.0 737.1M100.4 745.7L113.1 729.7M105.9 732.6L113.1 729.7L112.0 737.4M118.6 745.7L131.7 731.2M124.6 733.5L131.7 731.2L130.1 738.5M136.8 745.7L149.3 731.8M142.5 734.0L149.3 731.8L147.8 738.7M155.0 745.7L168.6 733.9M161.9 735.2L168.6 733.9L166.3 740.4M173.1 745.7L183.9 738.1M179.0 738.6L183.9 738.1L181.8 742.7M191.3 745.7L199.6 740.9M196.0 740.9L199.6 740.9L197.8 744.1M209.5 745.7L215.5 745.7M213.3 744.4L215.5 745.7L213.3 746.9M227.7 745.7L231.3 751.9M231.3 749.2L231.3 751.9L228.9 750.6M245.9 745.7L246.7 755.3M248.2 751.9L246.7 755.3L244.6 752.3M264.0 745.7L264.5 756.5M266.4 752.8L264.5 756.5L262.3 753.0M282.2 745.7L283.2 757.7M285.1 753.5L283.2 757.7L280.6 753.9M300.4 745.7L300.8 757.7M303.0 753.7L300.8 757.7L298.4 753.8M318.6 745.7L318.6 757.7M320.9 753.7L318.6 757.7L316.3 753.7M336.8 745.7L336.9 757.7M339.2 753.7L336.9 757.7L334.6 753.8M355.0 745.7L355.2 757.0M357.3 753.2L355.2 757.0L353.0 753.3M373.1 745.7L372.9 755.8M374.9 752.5L372.9 755.8L371.0 752.4M391.3 745.7L391.0 755.3M392.9 752.2L391.0 755.3L389.3 752.1M409.5 745.7L409.5 754.6M411.2 751.6L409.5 754.6L407.8 751.6M427.7 745.7L427.7 753.4M429.1 750.8L427.7 753.4L426.2 750.8M445.9 745.7L445.9 751.0M447.1 748.8L445.9 751.0L444.6 748.8M464.0 745.7L464.4 749.3M465.4 747.0L464.4 749.3L462.9 747.2M482.2 745.7l-0.8 2.3M500.4 745.7l-1.5 0.8M518.6 745.7l-1.2 -0.2M536.8 745.7l-0.8 -1.5M555.0 745.7l-0.4 -2.4M573.1 745.7l0.0 -2.4M591.3 745.7L591.9 742.1M590.3 744.1L591.9 742.1L592.8 744.5M609.5 745.7L611.3 742.6M609.1 743.8L611.3 742.6L611.3 745.1M627.7 745.7L630.7 740.5M628.5 741.8L630.7 740.5L630.7 743.0M645.9 745.7L650.0 739.8M647.5 740.9L650.0 739.8L649.8 742.5M664.0 745.7L669.0 738.3M666.0 739.8L669.0 738.3L668.8 741.7M682.2 745.7L687.7 737.8M684.4 739.4L687.7 737.8L687.4 741.5M700.4 745.7L706.0 737.9M702.7 739.4L706.0 737.9L705.6 741.5M718.6 745.7L724.8 738.3M721.3 739.6L724.8 738.3L724.1 741.9M736.8 745.7L743.1 737.0M739.4 738.6L743.1 737.0L742.7 741.0M755.0 745.7L761.8 735.9M757.7 737.8L761.8 735.9L761.4 740.4M773.1 745.7L780.1 735.9M776.0 737.8L780.1 735.9L779.7 740.5M791.3 745.7L798.2 735.9M794.1 737.8L798.2 735.9L797.8 740.4M9.5 763.9L20.9 745.6M13.7 749.5L20.9 745.6L20.6 753.8M27.7 763.9L39.5 745.9M32.2 749.6L39.5 745.9L39.0 754.1M45.9 763.9L58.2 746.4M50.8 749.8L58.2 746.4L57.5 754.5M64.0 763.9L77.1 747.1M69.6 750.2L77.1 747.1L76.0 755.1M82.2 763.9L95.1 747.4M87.7 750.4L95.1 747.4L94.0 755.3M100.4 763.9L113.2 747.9M106.0 750.7L113.2 747.9L112.0 755.6M118.6 763.9L131.8 749.3M124.7 751.6L131.8 749.3L130.2 756.6M136.8 763.9L149.3 750.0M142.5 752.2L149.3 750.0L147.8 756.9M155.0 763.9L168.0 751.5M161.3 753.1L168.0 751.5L166.1 758.0M173.1 763.9L184.8 757.7M179.8 757.5L184.8 757.7L182.1 762.0M191.3 763.9L199.2 761.0M196.1 760.4L199.2 761.0L197.2 763.4M209.5 763.9L204.7 763.9M206.9 765.1L204.7 763.9L206.9 762.6M227.7 763.9L226.6 769.8M228.2 767.9L226.6 769.8L225.8 767.4M245.9 763.9L243.0 771.8M245.4 769.7L243.0 771.8L242.4 768.6M264.0 763.9L260.5 773.6M263.5 771.0L260.5 773.6L259.8 769.7M282.2 763.9L279.9 773.9M282.6 771.1L279.9 773.9L278.8 770.2M300.4 763.9L300.5 774.7M302.5 771.1L300.5 774.7L298.4 771.1M318.6 763.9L318.6 774.7M320.6 771.1L318.6 774.7L316.5 771.1M336.8 763.9L336.9 774.0M338.8 770.6L336.9 774.0L334.9 770.7M355.0 763.9L355.0 773.5M356.8 770.3L355.0 773.5L353.2 770.3M373.1 763.9L372.6 772.3M374.4 769.6L372.6 772.3L371.2 769.4M391.3 763.9L390.7 771.0M392.3 768.8L390.7 771.0L389.5 768.6M409.5 763.9L409.5 771.1M410.9 768.7L409.5 771.1L408.1 768.7M427.7 763.9L427.8 769.9M429.0 767.7L427.8 769.9L426.5 767.7M445.9 763.9L446.3 768.7M447.3 766.4L446.3 768.7L444.8 766.6M464.0 763.9L463.9 767.5M465.2 765.4L463.9 767.5L462.7 765.3M482.2 763.9l-0.4 2.4M500.4 763.9l-2.1 1.1M518.6 763.9l-2.1 -1.2M536.8 763.9l-0.9 -1.4M555.0 763.9l0.0 -1.7M573.1 763.9l0.2 -2.4M591.3 763.9L592.5 760.5M590.6 762.1L592.5 760.5L593.0 763.0M609.5 763.9L612.0 761.3M609.6 762.0L612.0 761.3L611.4 763.7M627.7 763.9L631.4 759.1M629.1 760.1L631.4 759.1L631.0 761.6M645.9 763.9L650.5 758.4M647.9 759.3L650.5 758.4L650.0 761.1M664.0 763.9L668.9 757.6M666.1 758.8L668.9 757.6L668.5 760.6M682.2 763.9L687.6 757.4M684.6 758.5L687.6 757.4L687.1 760.6M700.4 763.9L705.7 757.3M702.7 758.5L705.7 757.3L705.2 760.5M718.6 763.9L724.0 757.4M721.0 758.5L724.0 757.4L723.4 760.6M736.8 763.9L742.8 756.4M739.4 757.7L742.8 756.4L742.2 760.0M755.0 763.9L761.9 755.6M758.0 757.0L761.9 755.6L761.2 759.6M773.1 763.9L779.9 755.4M776.1 756.9L779.9 755.4L779.3 759.5M791.3 763.9L798.3 755.6M794.4 757.0L798.3 755.6L797.5 759.6"/>
</g>
<g fill="#808080" shape-rendering="crispEdges">
<rect x="9" y="27" width="1" height="745"/>
<rect x="81" y="27" width="1" height="745"/>
<rect x="154" y="27" width="1" height="745"/>
<rect x="227" y="27" width="1" height="745"/>
<rect x="299" y="27" width="1" height="745"/>
<rect x="372" y="27" width="1" height="745"/>
<rect x="445" y="27" width="1" height="745"/>
<rect x="518" y="27" width="1" height="745"/>
<rect x="590" y="27" width="1" height="745"/>
<rect x="663" y="27" width="1" height="745"/>
<rect x="736" y="27" width="1" height="745"/>
<rect x="0" y="36" width="800" height="1"/>
<rect x="0" y="109" width="800" height="1"/>
<rect x="0" y="181" width="800" height="1"/>
<rect x="0" y="254" width="800" height="1"/>
<rect x="0" y="327" width="800" height="1"/>
<rect x="0" y="400" width="800" height="1"/>
<rect x="0" y="472" width="800" height="1"/>
<rect x="0" y="545" width="800" height="1"/>
<rect x="0" y="618" width="800" height="1"/>
<rect x="0" y="690" width="800" height="1"/>
<rect x="0" y="763" width="800" height="1"/>
</g>
<g fill="#94857f" font-size="11.5px" opacity="0.9">
<text x="793" y="32" text-anchor="end" textLength="22" lengthAdjust="spacingAndGlyphs" clip-path="url(#mapclip)">31S</text>
<text x="793" y="105" text-anchor="end" textLength="22" lengthAdjust="spacingAndGlyphs">32S</text>
<text x="793" y="177" text-anchor="end" textLength="22" lengthAdjust="spacingAndGlyphs">33S</text>
<text x="793" y="250" text-anchor="end" textLength="22" lengthAdjust="spacingAndGlyphs">34S</text>
<text x="793" y="323" text-anchor="end" textLength="22" lengthAdjust="spacingAndGlyphs">35S</text>
<text x="793" y="396" text-anchor="end" textLength="22" lengthAdjust="spacingAndGlyphs">36S</text>
<text x="793" y="468" text-anchor="end" textLength="22" lengthAdjust="spacingAndGlyphs">37S</text>
<text x="793" y="541" text-anchor="end" textLength="22" lengthAdjust="spacingAndGlyphs">38S</text>
<text x="793" y="614" text-anchor="end" textLength="22" lengthAdjust="spacingAndGlyphs">39S</text>
<text x="793" y="686" text-anchor="end" textLength="22" lengthAdjust="spacingAndGlyphs">40S</text>
<text x="793" y="759" text-anchor="end" textLength="22" lengthAdjust="spacingAndGlyphs">41S</text>
<text transform="translate(13,766) rotate(90)" text-anchor="end" textLength="22" lengthAdjust="spacingAndGlyphs">61W</text>
<text transform="translate(85,766) rotate(90)" text-anchor="end" textLength="22" lengthAdjust="spacingAndGlyphs">60W</text>
<text transform="translate(158,766) rotate(90)" text-anchor="end" textLength="22" lengthAdjust="spacingAndGlyphs">59W</text>
<text transform="translate(231,766) rotate(90)" text-anchor="end" textLength="22" lengthAdjust="spacingAndGlyphs">58W</text>
<text transform="translate(303,766) rotate(90)" text-anchor="end" textLength="22" lengthAdjust="spacingAndGlyphs">57W</text>
<text transform="translate(376,766) rotate(90)" text-anchor="end" textLength="22" lengthAdjust="spacingAndGlyphs">56W</text>
<text transform="translate(449,766) rotate(90)" text-anchor="end" textLength="22" lengthAdjust="spacingAndGlyphs">55W</text>
<text transform="translate(522,766) rotate(90)" text-anchor="end" textLength="22" lengthAdjust="spacingAndGlyphs">54W</text>
<text transform="translate(594,766) rotate(90)" text-anchor="end" textLength="22" lengthAdjust="spacingAndGlyphs">53W</text>
<text transform="translate(667,766) rotate(90)" text-anchor="end" textLength="22" lengthAdjust="spacingAndGlyphs">52W</text>
<text transform="translate(740,766) rotate(90)" text-anchor="end" textLength="22" lengthAdjust="spacingAndGlyphs">51W</text>
</g>
<g fill="#000" shape-rendering="crispEdges">
<rect x="0" y="27" width="800" height="1"/>
<rect x="0" y="27" width="1" height="745"/>
<rect x="799" y="27" width="1" height="745"/>
<rect x="1" y="27" width="1" height="5"/>
<rect x="1" y="768" width="1" height="5"/>
<rect x="9" y="27" width="1" height="18"/>
<rect x="9" y="756" width="1" height="17"/>
<rect x="16" y="27" width="1" height="5"/>
<rect x="16" y="768" width="1" height="5"/>
<rect x="23" y="27" width="1" height="5"/>
<rect x="23" y="768" width="1" height="5"/>
<rect x="30" y="27" width="1" height="5"/>
<rect x="30" y="768" width="1" height="5"/>
<rect x="38" y="27" width="1" height="5"/>
<rect x="38" y="768" width="1" height="5"/>
<rect x="45" y="27" width="1" height="9"/>
<rect x="45" y="764" width="1" height="9"/>
<rect x="52" y="27" width="1" height="5"/>
<rect x="52" y="768" width="1" height="5"/>
<rect x="59" y="27" width="1" height="5"/>
<rect x="59" y="768" width="1" height="5"/>
<rect x="67" y="27" width="1" height="5"/>
<rect x="67" y="768" width="1" height="5"/>
<rect x="74" y="27" width="1" height="5"/>
<rect x="74" y="768" width="1" height="5"/>
<rect x="81" y="27" width="1" height="18"/>
<rect x="81" y="756" width="1" height="17"/>
<rect x="88" y="27" width="1" height="5"/>
<rect x="88" y="768" width="1" height="5"/>
<rect x="96" y="27" width="1" height="5"/>
<rect x="96" y="768" width="1" height="5"/>
<rect x="103" y="27" width="1" height="5"/>
<rect x="103" y="768" width="1" height="5"/>
<rect x="110" y="27" width="1" height="5"/>
<rect x="110" y="768" width="1" height="5"/>
<rect x="118" y="27" width="1" height="9"/>
<rect x="118" y="764" width="1" height="9"/>
<rect x="125" y="27" width="1" height="5"/>
<rect x="125" y="768" width="1" height="5"/>
<rect x="132" y="27" width="1" height="5"/>
<rect x="132" y="768" width="1" height="5"/>
<rect x="139" y="27" width="1" height="5"/>
<rect x="139" y="768" width="1" height="5"/>
<rect x="147" y="27" width="1" height="5"/>
<rect x="147" y="768" width="1" height="5"/>
<rect x="154" y="27" width="1" height="18"/>
<rect x="154" y="756" width="1" height="17"/>
<rect x="161" y="27" width="1" height="5"/>
<rect x="161" y="768" width="1" height="5"/>
<rect x="168" y="27" width="1" height="5"/>
<rect x="168" y="768" width="1" height="5"/>
<rect x="176" y="27" width="1" height="5"/>
<rect x="176" y="768" width="1" height="5"/>
<rect x="183" y="27" width="1" height="5"/>
<rect x="183" y="768" width="1" height="5"/>
<rect x="190" y="27" width="1" height="9"/>
<rect x="190" y="764" width="1" height="9"/>
<rect x="198" y="27" width="1" height="5"/>
<rect x="198" y="768" width="1" height="5"/>
<rect x="205" y="27" width="1" height="5"/>
<rect x="205" y="768" width="1" height="5"/>
<rect x="212" y="27" width="1" height="5"/>
<rect x="212" y="768" width="1" height="5"/>
<rect x="219" y="27" width="1" height="5"/>
<rect x="219" y="768" width="1" height="5"/>
<rect x="227" y="27" width="1" height="18"/>
<rect x="227" y="756" width="1" height="17"/>
<rect x="234" y="27" width="1" height="5"/>
<rect x="234" y="768" width="1" height="5"/>
<rect x="241" y="27" width="1" height="5"/>
<rect x="241" y="768" width="1" height="5"/>
<rect x="248" y="27" width="1" height="5"/>
<rect x="248" y="768" width="1" height="5"/>
<rect x="256" y="27" width="1" height="5"/>
<rect x="256" y="768" width="1" height="5"/>
<rect x="263" y="27" width="1" height="9"/>
<rect x="263" y="764" width="1" height="9"/>
<rect x="270" y="27" width="1" height="5"/>
<rect x="270" y="768" width="1" height="5"/>
<rect x="278" y="27" width="1" height="5"/>
<rect x="278" y="768" width="1" height="5"/>
<rect x="285" y="27" width="1" height="5"/>
<rect x="285" y="768" width="1" height="5"/>
<rect x="292" y="27" width="1" height="5"/>
<rect x="292" y="768" width="1" height="5"/>
<rect x="299" y="27" width="1" height="18"/>
<rect x="299" y="756" width="1" height="17"/>
<rect x="307" y="27" width="1" height="5"/>
<rect x="307" y="768" width="1" height="5"/>
<rect x="314" y="27" width="1" height="5"/>
<rect x="314" y="768" width="1" height="5"/>
<rect x="321" y="27" width="1" height="5"/>
<rect x="321" y="768" width="1" height="5"/>
<rect x="328" y="27" width="1" height="5"/>
<rect x="328" y="768" width="1" height="5"/>
<rect x="336" y="27" width="1" height="9"/>
<rect x="336" y="764" width="1" height="9"/>
<rect x="343" y="27" width="1" height="5"/>
<rect x="343" y="768" width="1" height="5"/>
<rect x="350" y="27" width="1" height="5"/>
<rect x="350" y="768" width="1" height="5"/>
<rect x="358" y="27" width="1" height="5"/>
<rect x="358" y="768" width="1" height="5"/>
<rect x="365" y="27" width="1" height="5"/>
<rect x="365" y="768" width="1" height="5"/>
<rect x="372" y="27" width="1" height="18"/>
<rect x="372" y="756" width="1" height="17"/>
<rect x="379" y="27" width="1" height="5"/>
<rect x="379" y="768" width="1" height="5"/>
<rect x="387" y="27" width="1" height="5"/>
<rect x="387" y="768" width="1" height="5"/>
<rect x="394" y="27" width="1" height="5"/>
<rect x="394" y="768" width="1" height="5"/>
<rect x="401" y="27" width="1" height="5"/>
<rect x="401" y="768" width="1" height="5"/>
<rect x="408" y="27" width="1" height="9"/>
<rect x="408" y="764" width="1" height="9"/>
<rect x="416" y="27" width="1" height="5"/>
<rect x="416" y="768" width="1" height="5"/>
<rect x="423" y="27" width="1" height="5"/>
<rect x="423" y="768" width="1" height="5"/>
<rect x="430" y="27" width="1" height="5"/>
<rect x="430" y="768" width="1" height="5"/>
<rect x="438" y="27" width="1" height="5"/>
<rect x="438" y="768" width="1" height="5"/>
<rect x="445" y="27" width="1" height="18"/>
<rect x="445" y="756" width="1" height="17"/>
<rect x="452" y="27" width="1" height="5"/>
<rect x="452" y="768" width="1" height="5"/>
<rect x="459" y="27" width="1" height="5"/>
<rect x="459" y="768" width="1" height="5"/>
<rect x="467" y="27" width="1" height="5"/>
<rect x="467" y="768" width="1" height="5"/>
<rect x="474" y="27" width="1" height="5"/>
<rect x="474" y="768" width="1" height="5"/>
<rect x="481" y="27" width="1" height="9"/>
<rect x="481" y="764" width="1" height="9"/>
<rect x="488" y="27" width="1" height="5"/>
<rect x="488" y="768" width="1" height="5"/>
<rect x="496" y="27" width="1" height="5"/>
<rect x="496" y="768" width="1" height="5"/>
<rect x="503" y="27" width="1" height="5"/>
<rect x="503" y="768" width="1" height="5"/>
<rect x="510" y="27" width="1" height="5"/>
<rect x="510" y="768" width="1" height="5"/>
<rect x="518" y="27" width="1" height="18"/>
<rect x="518" y="756" width="1" height="17"/>
<rect x="525" y="27" width="1" height="5"/>
<rect x="525" y="768" width="1" height="5"/>
<rect x="532" y="27" width="1" height="5"/>
<rect x="532" y="768" width="1" height="5"/>
<rect x="539" y="27" width="1" height="5"/>
<rect x="539" y="768" width="1" height="5"/>
<rect x="547" y="27" width="1" height="5"/>
<rect x="547" y="768" width="1" height="5"/>
<rect x="554" y="27" width="1" height="9"/>
<rect x="554" y="764" width="1" height="9"/>
<rect x="561" y="27" width="1" height="5"/>
<rect x="561" y="768" width="1" height="5"/>
<rect x="568" y="27" width="1" height="5"/>
<rect x="568" y="768" width="1" height="5"/>
<rect x="576" y="27" width="1" height="5"/>
<rect x="576" y="768" width="1" height="5"/>
<rect x="583" y="27" width="1" height="5"/>
<rect x="583" y="768" width="1" height="5"/>
<rect x="590" y="27" width="1" height="18"/>
<rect x="590" y="756" width="1" height="17"/>
<rect x="598" y="27" width="1" height="5"/>
<rect x="598" y="768" width="1" height="5"/>
<rect x="605" y="27" width="1" height="5"/>
<rect x="605" y="768" width="1" height="5"/>
<rect x="612" y="27" width="1" height="5"/>
<rect x="612" y="768" width="1" height="5"/>
<rect x="619" y="27" width="1" height="5"/>
<rect x="619" y="768" width="1" height="5"/>
<rect x="627" y="27" width="1" height="9"/>
<rect x="627" y="764" width="1" height="9"/>
<rect x="634" y="27" width="1" height="5"/>
<rect x="634" y="768" width="1" height="5"/>
<rect x="641" y="27" width="1" height="5"/>
<rect x="641" y="768" width="1" height="5"/>
<rect x="648" y="27" width="1" height="5"/>
<rect x="648" y="768" width="1" height="5"/>
<rect x="656" y="27" width="1" height="5"/>
<rect x="656" y="768" width="1" height="5"/>
<rect x="663" y="27" width="1" height="18"/>
<rect x="663" y="756" width="1" height="17"/>
<rect x="670" y="27" width="1" height="5"/>
<rect x="670" y="768" width="1" height="5"/>
<rect x="678" y="27" width="1" height="5"/>
<rect x="678" y="768" width="1" height="5"/>
<rect x="685" y="27" width="1" height="5"/>
<rect x="685" y="768" width="1" height="5"/>
<rect x="692" y="27" width="1" height="5"/>
<rect x="692" y="768" width="1" height="5"/>
<rect x="699" y="27" width="1" height="9"/>
<rect x="699" y="764" width="1" height="9"/>
<rect x="707" y="27" width="1" height="5"/>
<rect x="707" y="768" width="1" height="5"/>
<rect x="714" y="27" width="1" height="5"/>
<rect x="714" y="768" width="1" height="5"/>
<rect x="721" y="27" width="1" height="5"/>
<rect x="721" y="768" width="1" height="5"/>
<rect x="728" y="27" width="1" height="5"/>
<rect x="728" y="768" width="1" height="5"/>
<rect x="736" y="27" width="1" height="18"/>
<rect x="736" y="756" width="1" height="17"/>
<rect x="743" y="27" width="1" height="5"/>
<rect x="743" y="768" width="1" height="5"/>
<rect x="750" y="27" width="1" height="5"/>
<rect x="750" y="768" width="1" height="5"/>
<rect x="758" y="27" width="1" height="5"/>
<rect x="758" y="768" width="1" height="5"/>
<rect x="765" y="27" width="1" height="5"/>
<rect x="765" y="768" width="1" height="5"/>
<rect x="772" y="27" width="1" height="9"/>
<rect x="772" y="764" width="1" height="9"/>
<rect x="779" y="27" width="1" height="5"/>
<rect x="779" y="768" width="1" height="5"/>
<rect x="787" y="27" width="1" height="5"/>
<rect x="787" y="768" width="1" height="5"/>
<rect x="794" y="27" width="1" height="5"/>
<rect x="794" y="768" width="1" height="5"/>
<rect x="0" y="29" width="4" height="1"/>
<rect x="795" y="29" width="5" height="1"/>
<rect x="0" y="36" width="18" height="1"/>
<rect x="782" y="36" width="18" height="1"/>
<rect x="0" y="43" width="4" height="1"/>
<rect x="795" y="43" width="5" height="1"/>
<rect x="0" y="50" width="4" height="1"/>
<rect x="795" y="50" width="5" height="1"/>
<rect x="0" y="58" width="4" height="1"/>
<rect x="795" y="58" width="5" height="1"/>
<rect x="0" y="65" width="4" height="1"/>
<rect x="795" y="65" width="5" height="1"/>
<rect x="0" y="72" width="9" height="1"/>
<rect x="791" y="72" width="9" height="1"/>
<rect x="0" y="80" width="4" height="1"/>
<rect x="795" y="80" width="5" height="1"/>
<rect x="0" y="87" width="4" height="1"/>
<rect x="795" y="87" width="5" height="1"/>
<rect x="0" y="94" width="4" height="1"/>
<rect x="795" y="94" width="5" height="1"/>
<rect x="0" y="101" width="4" height="1"/>
<rect x="795" y="101" width="5" height="1"/>
<rect x="0" y="109" width="18" height="1"/>
<rect x="782" y="109" width="18" height="1"/>
<rect x="0" y="116" width="4" height="1"/>
<rect x="795" y="116" width="5" height="1"/>
<rect x="0" y="123" width="4" height="1"/>
<rect x="795" y="123" width="5" height="1"/>
<rect x="0" y="130" width="4" height="1"/>
<rect x="795" y="130" width="5" height="1"/>
<rect x="0" y="138" width="4" height="1"/>
<rect x="795" y="138" width="5" height="1"/>
<rect x="0" y="145" width="9" height="1"/>
<rect x="791" y="145" width="9" height="1"/>
<rect x="0" y="152" width="4" height="1"/>
<rect x="795" y="152" width="5" height="1"/>
<rect x="0" y="160" width="4" height="1"/>
<rect x="795" y="160" width="5" height="1"/>
<rect x="0" y="167" width="4" height="1"/>
<rect x="795" y="167" width="5" height="1"/>
<rect x="0" y="174" width="4" height="1"/>
<rect x="795" y="174" width="5" height="1"/>
<rect x="0" y="181" width="18" height="1"/>
<rect x="782" y="181" width="18" height="1"/>
<rect x="0" y="189" width="4" height="1"/>
<rect x="795" y="189" width="5" height="1"/>
<rect x="0" y="196" width="4" height="1"/>
<rect x="795" y="196" width="5" height="1"/>
<rect x="0" y="203" width="4" height="1"/>
<rect x="795" y="203" width="5" height="1"/>
<rect x="0" y="210" width="4" height="1"/>
<rect x="795" y="210" width="5" height="1"/>
<rect x="0" y="218" width="9" height="1"/>
<rect x="791" y="218" width="9" height="1"/>
<rect x="0" y="225" width="4" height="1"/>
<rect x="795" y="225" width="5" height="1"/>
<rect x="0" y="232" width="4" height="1"/>
<rect x="795" y="232" width="5" height="1"/>
<rect x="0" y="240" width="4" height="1"/>
<rect x="795" y="240" width="5" height="1"/>
<rect x="0" y="247" width="4" height="1"/>
<rect x="795" y="247" width="5" height="1"/>
<rect x="0" y="254" width="18" height="1"/>
<rect x="782" y="254" width="18" height="1"/>
<rect x="0" y="261" width="4" height="1"/>
<rect x="795" y="261" width="5" height="1"/>
<rect x="0" y="269" width="4" height="1"/>
<rect x="795" y="269" width="5" height="1"/>
<rect x="0" y="276" width="4" height="1"/>
<rect x="795" y="276" width="5" height="1"/>
<rect x="0" y="283" width="4" height="1"/>
<rect x="795" y="283" width="5" height="1"/>
<rect x="0" y="290" width="9" height="1"/>
<rect x="791" y="290" width="9" height="1"/>
<rect x="0" y="298" width="4" height="1"/>
<rect x="795" y="298" width="5" height="1"/>
<rect x="0" y="305" width="4" height="1"/>
<rect x="795" y="305" width="5" height="1"/>
<rect x="0" y="312" width="4" height="1"/>
<rect x="795" y="312" width="5" height="1"/>
<rect x="0" y="320" width="4" height="1"/>
<rect x="795" y="320" width="5" height="1"/>
<rect x="0" y="327" width="18" height="1"/>
<rect x="782" y="327" width="18" height="1"/>
<rect x="0" y="334" width="4" height="1"/>
<rect x="795" y="334" width="5" height="1"/>
<rect x="0" y="341" width="4" height="1"/>
<rect x="795" y="341" width="5" height="1"/>
<rect x="0" y="349" width="4" height="1"/>
<rect x="795" y="349" width="5" height="1"/>
<rect x="0" y="356" width="4" height="1"/>
<rect x="795" y="356" width="5" height="1"/>
<rect x="0" y="363" width="9" height="1"/>
<rect x="791" y="363" width="9" height="1"/>
<rect x="0" y="370" width="4" height="1"/>
<rect x="795" y="370" width="5" height="1"/>
<rect x="0" y="378" width="4" height="1"/>
<rect x="795" y="378" width="5" height="1"/>
<rect x="0" y="385" width="4" height="1"/>
<rect x="795" y="385" width="5" height="1"/>
<rect x="0" y="392" width="4" height="1"/>
<rect x="795" y="392" width="5" height="1"/>
<rect x="0" y="400" width="18" height="1"/>
<rect x="782" y="400" width="18" height="1"/>
<rect x="0" y="407" width="4" height="1"/>
<rect x="795" y="407" width="5" height="1"/>
<rect x="0" y="414" width="4" height="1"/>
<rect x="795" y="414" width="5" height="1"/>
<rect x="0" y="421" width="4" height="1"/>
<rect x="795" y="421" width="5" height="1"/>
<rect x="0" y="429" width="4" height="1"/>
<rect x="795" y="429" width="5" height="1"/>
<rect x="0" y="436" width="9" height="1"/>
<rect x="791" y="436" width="9" height="1"/>
<rect x="0" y="443" width="4" height="1"/>
<rect x="795" y="443" width="5" height="1"/>
<rect x="0" y="450" width="4" height="1"/>
<rect x="795" y="450" width="5" height="1"/>
<rect x="0" y="458" width="4" height="1"/>
<rect x="795" y="458" width="5" height="1"/>
<rect x="0" y="465" width="4" height="1"/>
<rect x="795" y="465" width="5" height="1"/>
<rect x="0" y="472" width="18" height="1"/>
<rect x="782" y="472" width="18" height="1"/>
<rect x="0" y="479" width="4" height="1"/>
<rect x="795" y="479" width="5" height="1"/>
<rect x="0" y="487" width="4" height="1"/>
<rect x="795" y="487" width="5" height="1"/>
<rect x="0" y="494" width="4" height="1"/>
<rect x="795" y="494" width="5" height="1"/>
<rect x="0" y="501" width="4" height="1"/>
<rect x="795" y="501" width="5" height="1"/>
<rect x="0" y="509" width="9" height="1"/>
<rect x="791" y="509" width="9" height="1"/>
<rect x="0" y="516" width="4" height="1"/>
<rect x="795" y="516" width="5" height="1"/>
<rect x="0" y="523" width="4" height="1"/>
<rect x="795" y="523" width="5" height="1"/>
<rect x="0" y="530" width="4" height="1"/>
<rect x="795" y="530" width="5" height="1"/>
<rect x="0" y="538" width="4" height="1"/>
<rect x="795" y="538" width="5" height="1"/>
<rect x="0" y="545" width="18" height="1"/>
<rect x="782" y="545" width="18" height="1"/>
<rect x="0" y="552" width="4" height="1"/>
<rect x="795" y="552" width="5" height="1"/>
<rect x="0" y="559" width="4" height="1"/>
<rect x="795" y="559" width="5" height="1"/>
<rect x="0" y="567" width="4" height="1"/>
<rect x="795" y="567" width="5" height="1"/>
<rect x="0" y="574" width="4" height="1"/>
<rect x="795" y="574" width="5" height="1"/>
<rect x="0" y="581" width="9" height="1"/>
<rect x="791" y="581" width="9" height="1"/>
<rect x="0" y="589" width="4" height="1"/>
<rect x="795" y="589" width="5" height="1"/>
<rect x="0" y="596" width="4" height="1"/>
<rect x="795" y="596" width="5" height="1"/>
<rect x="0" y="603" width="4" height="1"/>
<rect x="795" y="603" width="5" height="1"/>
<rect x="0" y="610" width="4" height="1"/>
<rect x="795" y="610" width="5" height="1"/>
<rect x="0" y="618" width="18" height="1"/>
<rect x="782" y="618" width="18" height="1"/>
<rect x="0" y="625" width="4" height="1"/>
<rect x="795" y="625" width="5" height="1"/>
<rect x="0" y="632" width="4" height="1"/>
<rect x="795" y="632" width="5" height="1"/>
<rect x="0" y="639" width="4" height="1"/>
<rect x="795" y="639" width="5" height="1"/>
<rect x="0" y="647" width="4" height="1"/>
<rect x="795" y="647" width="5" height="1"/>
<rect x="0" y="654" width="9" height="1"/>
<rect x="791" y="654" width="9" height="1"/>
<rect x="0" y="661" width="4" height="1"/>
<rect x="795" y="661" width="5" height="1"/>
<rect x="0" y="669" width="4" height="1"/>
<rect x="795" y="669" width="5" height="1"/>
<rect x="0" y="676" width="4" height="1"/>
<rect x="795" y="676" width="5" height="1"/>
<rect x="0" y="683" width="4" height="1"/>
<rect x="795" y="683" width="5" height="1"/>
<rect x="0" y="690" width="18" height="1"/>
<rect x="782" y="690" width="18" height="1"/>
<rect x="0" y="698" width="4" height="1"/>
<rect x="795" y="698" width="5" height="1"/>
<rect x="0" y="705" width="4" height="1"/>
<rect x="795" y="705" width="5" height="1"/>
<rect x="0" y="712" width="4" height="1"/>
<rect x="795" y="712" width="5" height="1"/>
<rect x="0" y="719" width="4" height="1"/>
<rect x="795" y="719" width="5" height="1"/>
<rect x="0" y="727" width="9" height="1"/>
<rect x="791" y="727" width="9" height="1"/>
<rect x="0" y="734" width="4" height="1"/>
<rect x="795" y="734" width="5" height="1"/>
<rect x="0" y="741" width="4" height="1"/>
<rect x="795" y="741" width="5" height="1"/>
<rect x="0" y="749" width="4" height="1"/>
<rect x="795" y="749" width="5" height="1"/>
<rect x="0" y="756" width="4" height="1"/>
<rect x="795" y="756" width="5" height="1"/>
<rect x="0" y="763" width="18" height="1"/>
<rect x="782" y="763" width="18" height="1"/>
<rect x="0" y="770" width="4" height="1"/>
<rect x="795" y="770" width="5" height="1"/>
</g>
<g fill="#808080" stroke="#808080" stroke-width="0.7" font-size="24px" font-weight="bold">
<text x="5.5" y="49.6" textLength="103.0" lengthAdjust="spacingAndGlyphs">modelo</text>
<text x="117.5" y="49.6" textLength="170.5" lengthAdjust="spacingAndGlyphs">GEFS-WAVE</text>
<text x="294.5" y="49.6" textLength="94.0" lengthAdjust="spacingAndGlyphs">(NCEP)</text>
<text x="5.5" y="72.3" textLength="114.5" lengthAdjust="spacingAndGlyphs">forecast</text>
<text x="131.5" y="72.3" textLength="74.0" lengthAdjust="spacingAndGlyphs">date:</text>
<text x="214.0" y="72.3" textLength="156.5" lengthAdjust="spacingAndGlyphs">2025-12-15</text>
<text x="378.5" y="72.3" textLength="121.0" lengthAdjust="spacingAndGlyphs">06:00:00</text>
<text x="42.0" y="95.4" textLength="67.0" lengthAdjust="spacingAndGlyphs">valid</text>
<text x="118.5" y="95.4" textLength="76.0" lengthAdjust="spacingAndGlyphs">date:</text>
<text x="202.5" y="95.4" textLength="157.0" lengthAdjust="spacingAndGlyphs">2025-12-15</text>
<text x="367.5" y="95.4" textLength="121.0" lengthAdjust="spacingAndGlyphs">12:00:00</text>
</g>
<g stroke="#000" stroke-width="1" fill="none" shape-rendering="crispEdges" clip-path="url(#mapclip)">
<polyline points="236.0,27.0 236.0,30.0 234.0,52.0 225.0,68.0 226.0,77.0 225.0,93.0 212.5,101.0 217.0,109.5 214.0,121.0 220.0,129.5 212.0,143.0"/>
<polyline points="212.0,143.0 212.5,157.0 215.0,169.5 217.0,177.0 214.0,187.0 204.0,189.5 196.0,189.5 196.0,202.0 190.0,212.0 188.0,227.0 187.5,230.0 192.5,240.0 195.0,255.0 200.0,265.0 199.0,272.5 185.0,275.0 195.0,280.0 190.0,286.0 200.0,294.0 204.0,299.0 217.5,307.5 235.0,316.0 255.0,325.0 267.5,332.5 282.5,345.0 290.0,357.5 287.5,366.0 280.0,372.5 275.0,377.0 272.0,389.5 275.0,402.0 285.0,412.0 292.5,422.0 307.5,426.0 317.5,422.0 321.0,427.0 324.0,447.0 324.5,464.5 317.5,474.5 307.5,487.0 300.0,499.5 290.0,512.0 275.0,522.0 265.0,532.0 261.0,539.5 261.0,551.0 256.0,556.0 240.0,563.0 225.0,571.5 215.0,576.0 200.0,581.5 175.0,588.0 150.0,595.5 110.0,602.0 100.0,605.5 80.0,608.0 32.0,613.0 0.0,618.0"/>
<polyline points="212.0,143.0 214.0,144.5 217.5,157.0 219.0,168.0 224.0,174.5 222.5,183.0 216.0,189.5 201.0,191.0 201.0,202.0 197.5,212.0 199.0,217.0 196.0,222.0 196.0,232.5 200.0,247.5 210.0,260.0 222.5,270.0 232.5,281.0 237.5,289.0 250.0,286.0 270.0,285.0 285.0,287.5 297.5,295.0 310.0,302.5 325.0,307.5 335.0,310.0 342.5,310.0 345.0,314.0 344.0,316.0 350.0,320.0 357.5,321.0 367.5,319.0 375.0,315.0 385.0,311.0 397.5,310.0 405.0,312.0 417.5,312.0 424.0,316.0 427.5,319.0 437.5,318.0 445.0,320.5 449.0,325.0 455.0,322.5 470.0,316.0 490.0,309.0 495.0,302.5 494.0,297.5 497.0,295.0 500.0,297.5 501.0,304.0 507.5,302.0 510.0,297.5 517.5,292.5 534.0,282.5 536.0,272.5 545.0,265.0 552.5,255.0 555.0,242.5 562.5,235.0 580.0,225.0 597.5,210.0 616.0,191.0 625.0,177.5 630.0,162.5 635.0,145.0 642.5,135.0 650.0,128.0 662.0,116.0 673.0,106.0 706.0,86.0 737.0,57.0 764.0,30.0 767.0,27.0"/>
<polyline points="407.0,27.0 418.0,38.0 423.0,48.0 430.0,55.0 440.0,60.0 452.0,67.0 463.0,70.0 480.0,78.0 490.0,88.0 500.0,96.0 508.0,101.0 512.0,100.0 520.0,104.0 527.0,110.0 535.0,112.0 538.0,120.0 542.0,127.0 544.0,130.0 545.0,135.0 560.0,149.0 572.5,154.0 580.0,157.5 583.0,162.0 570.0,172.5 569.0,177.5 555.0,187.5 552.0,195.0 553.0,212.5 552.0,230.0 557.5,234.0 561.0,235.0"/>
<polyline points="390.0,28.0 388.0,32.0 382.0,33.0 376.0,40.0 372.0,42.0"/>
<polyline points="701.0,27.0 702.0,38.0 704.0,41.0 694.0,46.0 690.0,47.0 689.0,55.0 680.0,56.0 668.0,59.0 664.0,65.0 663.0,77.0 660.0,77.0 657.0,78.0 657.0,81.0 660.0,82.0 661.0,86.0 648.0,89.0 647.0,96.0 652.0,100.0 646.0,102.0 645.0,106.0 652.0,107.0 646.0,110.0 645.0,113.0 650.0,115.0 656.0,111.0 658.0,114.0 656.0,118.0 659.0,119.0"/>
<polyline points="738.0,27.0 736.0,35.0 737.0,44.0 740.0,44.0 739.0,40.0 728.0,40.0 725.0,46.0 724.0,58.0 720.0,66.0 716.0,71.0 706.0,75.0 704.0,72.0 702.0,80.0 698.0,78.0 690.0,86.0 680.0,94.0 664.0,97.0 660.0,95.0 658.0,98.0 662.0,100.0 672.0,100.0"/>
</g>
<defs><linearGradient id="cb" x1="0" y1="0" x2="0" y2="1">
<stop offset="0.0000" stop-color="#c00080"/>
<stop offset="0.1640" stop-color="#ff0000"/>
<stop offset="0.4656" stop-color="#ffff00"/>
<stop offset="0.5996" stop-color="#00ff00"/>
<stop offset="0.7336" stop-color="#00ffff"/>
<stop offset="1.0000" stop-color="#0000ff"/>
</linearGradient></defs>
<g shape-rendering="crispEdges">
<rect x="32" y="160" width="49" height="609" fill="#000"/>
<rect x="33" y="161" width="47" height="607" fill="#fff"/>
<rect x="34" y="162" width="45" height="605" fill="url(#cb)"/>
</g>
<g fill="#222" font-size="15px">
<text x="35" y="148.5" font-size="17px" textLength="43" lengthAdjust="spacingAndGlyphs">[m/s]</text>
<text x="87" y="164.4" textLength="17" lengthAdjust="spacingAndGlyphs">30</text>
<text x="87" y="316.4" textLength="17" lengthAdjust="spacingAndGlyphs">22</text>
<text x="87" y="468.4" textLength="17" lengthAdjust="spacingAndGlyphs">15</text>
<text x="87" y="620.5" textLength="8" lengthAdjust="spacingAndGlyphs">8</text>
<text x="87" y="772.5" textLength="8" lengthAdjust="spacingAndGlyphs">0</text>
</g>
</svg></body></html>
